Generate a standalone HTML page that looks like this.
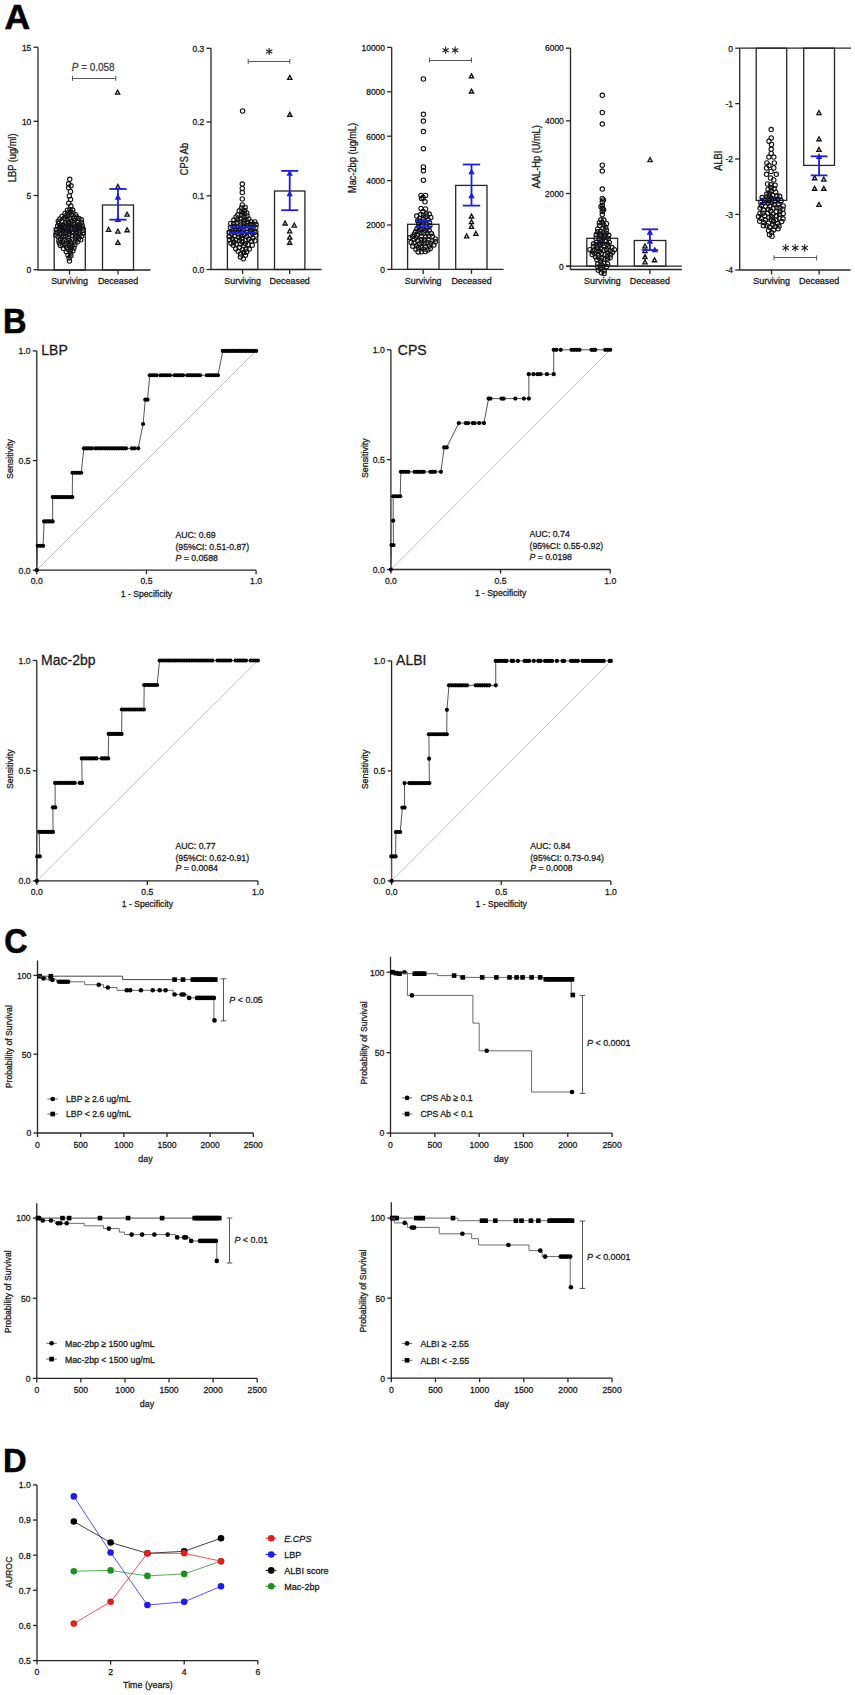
<!DOCTYPE html>
<html><head><meta charset="utf-8"><style>
html,body{margin:0;padding:0;background:#fff;}
svg{display:block;font-family:"Liberation Sans", sans-serif;}
</style></head><body>
<svg width="855" height="1695" viewBox="0 0 855 1695">
<rect width="855" height="1695" fill="#fff"/>
<text x="0" y="0" font-size="35.51" font-weight="bold" fill="#000" stroke="#000" stroke-width="0.6" transform="translate(4.62 29) scale(1 1)">A</text>
<line x1="38" y1="47.2" x2="38" y2="270.3" stroke="#262626" stroke-width="1.3" />
<line x1="33.5" y1="269.7" x2="38" y2="269.7" stroke="#262626" stroke-width="1.3" />
<text x="0" y="0" font-size="9.18" text-anchor="end" font-weight="normal" fill="#1c1c1c" transform="translate(31.3 273) scale(0.92 1)"  stroke="#1c1c1c" stroke-width="0.3">0</text>
<line x1="33.5" y1="195.5" x2="38" y2="195.5" stroke="#262626" stroke-width="1.3" />
<text x="0" y="0" font-size="9.18" text-anchor="end" font-weight="normal" fill="#1c1c1c" transform="translate(31.3 198.8) scale(0.92 1)"  stroke="#1c1c1c" stroke-width="0.3">5</text>
<line x1="33.5" y1="121.3" x2="38" y2="121.3" stroke="#262626" stroke-width="1.3" />
<text x="0" y="0" font-size="9.18" text-anchor="end" font-weight="normal" fill="#1c1c1c" transform="translate(31.3 124.6) scale(0.92 1)"  stroke="#1c1c1c" stroke-width="0.3">10</text>
<line x1="33.5" y1="47.2" x2="38" y2="47.2" stroke="#262626" stroke-width="1.3" />
<text x="0" y="0" font-size="9.18" text-anchor="end" font-weight="normal" fill="#1c1c1c" transform="translate(31.3 50.5) scale(0.92 1)"  stroke="#1c1c1c" stroke-width="0.3">15</text>
<rect x="54.2" y="228.1" width="31.1" height="41.9" fill="none" stroke="#262626" stroke-width="1.3"/>
<rect x="102.5" y="205" width="31" height="65" fill="none" stroke="#262626" stroke-width="1.3"/>
<line x1="38" y1="270" x2="150.5" y2="270" stroke="#262626" stroke-width="1.3" />
<line x1="69.5" y1="270" x2="69.5" y2="274.5" stroke="#262626" stroke-width="1.3" />
<line x1="118" y1="270" x2="118" y2="274.5" stroke="#262626" stroke-width="1.3" />
<text x="0" y="0" font-size="9.72" text-anchor="middle" font-weight="normal" fill="#1c1c1c" transform="translate(69.5 283.8) scale(0.92 1)"  stroke="#1c1c1c" stroke-width="0.3">Surviving</text>
<text x="0" y="0" font-size="9.72" text-anchor="middle" font-weight="normal" fill="#1c1c1c" transform="translate(118 283.8) scale(0.92 1)"  stroke="#1c1c1c" stroke-width="0.3">Deceased</text>
<text x="0" y="0" font-size="10.04" text-anchor="middle" font-weight="normal" fill="#1c1c1c" transform="translate(16.22 157.8) rotate(-90) scale(0.92 1)"  stroke="#1c1c1c" stroke-width="0.3">LBP (ug/ml)</text>
<line x1="72.5" y1="78.5" x2="115.8" y2="78.5" stroke="#555" stroke-width="1.1" />
<line x1="72.5" y1="75.8" x2="72.5" y2="80.8" stroke="#555" stroke-width="1.0" />
<line x1="115.8" y1="75.8" x2="115.8" y2="80.8" stroke="#555" stroke-width="1.0" />
<text x="0" y="0" font-size="10.8" text-anchor="middle" font-weight="normal" fill="#444" transform="translate(93.2 70.89) scale(0.92 1)"  stroke="#444" stroke-width="0.3"><tspan font-style="italic">P</tspan> = 0.058</text>
<line x1="69.7" y1="225.5" x2="69.7" y2="231" stroke="#1e1ee0" stroke-width="1.8" />
<line x1="60.7" y1="225.5" x2="78.7" y2="225.5" stroke="#1e1ee0" stroke-width="1.8" />
<line x1="60.7" y1="231" x2="78.7" y2="231" stroke="#1e1ee0" stroke-width="1.8" />
<circle cx="69.7" cy="179.3" r="2.2" fill="none" stroke="#111" stroke-width="1.1"/>
<circle cx="68.6" cy="183.8" r="2.2" fill="none" stroke="#111" stroke-width="1.1"/>
<circle cx="71" cy="185.8" r="2.2" fill="none" stroke="#111" stroke-width="1.1"/>
<circle cx="68.6" cy="187.8" r="2.2" fill="none" stroke="#111" stroke-width="1.1"/>
<circle cx="70.5" cy="191.5" r="2.2" fill="none" stroke="#111" stroke-width="1.1"/>
<circle cx="69.3" cy="196" r="2.2" fill="none" stroke="#111" stroke-width="1.1"/>
<circle cx="70.5" cy="199.5" r="2.2" fill="none" stroke="#111" stroke-width="1.1"/>
<circle cx="68.8" cy="203.2" r="2.2" fill="none" stroke="#111" stroke-width="1.1"/>
<circle cx="70.8" cy="206" r="2.2" fill="none" stroke="#111" stroke-width="1.1"/>
<circle cx="71.64" cy="232.43" r="2.2" fill="none" stroke="#111" stroke-width="1.1"/>
<circle cx="69.16" cy="257.91" r="2.2" fill="none" stroke="#111" stroke-width="1.1"/>
<circle cx="72.38" cy="235.42" r="2.2" fill="none" stroke="#111" stroke-width="1.1"/>
<circle cx="69.81" cy="217.97" r="2.2" fill="none" stroke="#111" stroke-width="1.1"/>
<circle cx="74.88" cy="242.01" r="2.2" fill="none" stroke="#111" stroke-width="1.1"/>
<circle cx="67.76" cy="213.08" r="2.2" fill="none" stroke="#111" stroke-width="1.1"/>
<circle cx="72.93" cy="212.9" r="2.2" fill="none" stroke="#111" stroke-width="1.1"/>
<circle cx="60.37" cy="245.45" r="2.2" fill="none" stroke="#111" stroke-width="1.1"/>
<circle cx="69.43" cy="261.04" r="2.2" fill="none" stroke="#111" stroke-width="1.1"/>
<circle cx="70.61" cy="243.31" r="2.2" fill="none" stroke="#111" stroke-width="1.1"/>
<circle cx="62.06" cy="216.5" r="2.2" fill="none" stroke="#111" stroke-width="1.1"/>
<circle cx="58.09" cy="236.53" r="2.2" fill="none" stroke="#111" stroke-width="1.1"/>
<circle cx="64.41" cy="218.27" r="2.2" fill="none" stroke="#111" stroke-width="1.1"/>
<circle cx="69.89" cy="209.62" r="2.2" fill="none" stroke="#111" stroke-width="1.1"/>
<circle cx="79.31" cy="231.79" r="2.2" fill="none" stroke="#111" stroke-width="1.1"/>
<circle cx="63.9" cy="232.7" r="2.2" fill="none" stroke="#111" stroke-width="1.1"/>
<circle cx="70.58" cy="253.37" r="2.2" fill="none" stroke="#111" stroke-width="1.1"/>
<circle cx="62.83" cy="225.02" r="2.2" fill="none" stroke="#111" stroke-width="1.1"/>
<circle cx="58.87" cy="223.61" r="2.2" fill="none" stroke="#111" stroke-width="1.1"/>
<circle cx="68.17" cy="249.38" r="2.2" fill="none" stroke="#111" stroke-width="1.1"/>
<circle cx="65" cy="213.46" r="2.2" fill="none" stroke="#111" stroke-width="1.1"/>
<circle cx="68.3" cy="238.2" r="2.2" fill="none" stroke="#111" stroke-width="1.1"/>
<circle cx="74.21" cy="218.3" r="2.2" fill="none" stroke="#111" stroke-width="1.1"/>
<circle cx="71.58" cy="215.07" r="2.2" fill="none" stroke="#111" stroke-width="1.1"/>
<circle cx="79.12" cy="224.42" r="2.2" fill="none" stroke="#111" stroke-width="1.1"/>
<circle cx="67.12" cy="219.38" r="2.2" fill="none" stroke="#111" stroke-width="1.1"/>
<circle cx="71.93" cy="221.12" r="2.2" fill="none" stroke="#111" stroke-width="1.1"/>
<circle cx="68.69" cy="228.07" r="2.2" fill="none" stroke="#111" stroke-width="1.1"/>
<circle cx="78.26" cy="239.03" r="2.2" fill="none" stroke="#111" stroke-width="1.1"/>
<circle cx="61.9" cy="221.47" r="2.2" fill="none" stroke="#111" stroke-width="1.1"/>
<circle cx="73.91" cy="247.93" r="2.2" fill="none" stroke="#111" stroke-width="1.1"/>
<circle cx="78.93" cy="218.62" r="2.2" fill="none" stroke="#111" stroke-width="1.1"/>
<circle cx="59.36" cy="230.76" r="2.2" fill="none" stroke="#111" stroke-width="1.1"/>
<circle cx="72.66" cy="210.09" r="2.2" fill="none" stroke="#111" stroke-width="1.1"/>
<circle cx="74.45" cy="220.87" r="2.2" fill="none" stroke="#111" stroke-width="1.1"/>
<circle cx="77.33" cy="221.88" r="2.2" fill="none" stroke="#111" stroke-width="1.1"/>
<circle cx="64.68" cy="240.21" r="2.2" fill="none" stroke="#111" stroke-width="1.1"/>
<circle cx="60.66" cy="238.9" r="2.2" fill="none" stroke="#111" stroke-width="1.1"/>
<circle cx="79.95" cy="227.56" r="2.2" fill="none" stroke="#111" stroke-width="1.1"/>
<circle cx="69.1" cy="245.33" r="2.2" fill="none" stroke="#111" stroke-width="1.1"/>
<circle cx="76.44" cy="234.04" r="2.2" fill="none" stroke="#111" stroke-width="1.1"/>
<circle cx="82.17" cy="225.22" r="2.2" fill="none" stroke="#111" stroke-width="1.1"/>
<circle cx="70.26" cy="212.06" r="2.2" fill="none" stroke="#111" stroke-width="1.1"/>
<circle cx="70.96" cy="247.8" r="2.2" fill="none" stroke="#111" stroke-width="1.1"/>
<circle cx="72.93" cy="250.84" r="2.2" fill="none" stroke="#111" stroke-width="1.1"/>
<circle cx="74.55" cy="227" r="2.2" fill="none" stroke="#111" stroke-width="1.1"/>
<circle cx="66.54" cy="241.75" r="2.2" fill="none" stroke="#111" stroke-width="1.1"/>
<circle cx="71.99" cy="239.46" r="2.2" fill="none" stroke="#111" stroke-width="1.1"/>
<circle cx="66.68" cy="247.32" r="2.2" fill="none" stroke="#111" stroke-width="1.1"/>
<circle cx="73.95" cy="224.26" r="2.2" fill="none" stroke="#111" stroke-width="1.1"/>
<circle cx="68" cy="255.13" r="2.2" fill="none" stroke="#111" stroke-width="1.1"/>
<circle cx="56.96" cy="232.56" r="2.2" fill="none" stroke="#111" stroke-width="1.1"/>
<circle cx="62.87" cy="244.96" r="2.2" fill="none" stroke="#111" stroke-width="1.1"/>
<circle cx="61.06" cy="233.66" r="2.2" fill="none" stroke="#111" stroke-width="1.1"/>
<circle cx="65.64" cy="222.71" r="2.2" fill="none" stroke="#111" stroke-width="1.1"/>
<circle cx="77.69" cy="229.25" r="2.2" fill="none" stroke="#111" stroke-width="1.1"/>
<circle cx="77.48" cy="241.78" r="2.2" fill="none" stroke="#111" stroke-width="1.1"/>
<circle cx="71.73" cy="228.35" r="2.2" fill="none" stroke="#111" stroke-width="1.1"/>
<circle cx="66.35" cy="251.69" r="2.2" fill="none" stroke="#111" stroke-width="1.1"/>
<circle cx="77.02" cy="226.09" r="2.2" fill="none" stroke="#111" stroke-width="1.1"/>
<circle cx="58.85" cy="240.68" r="2.2" fill="none" stroke="#111" stroke-width="1.1"/>
<circle cx="68.76" cy="222.54" r="2.2" fill="none" stroke="#111" stroke-width="1.1"/>
<circle cx="81.33" cy="219.78" r="2.2" fill="none" stroke="#111" stroke-width="1.1"/>
<circle cx="74.91" cy="229.75" r="2.2" fill="none" stroke="#111" stroke-width="1.1"/>
<circle cx="74.8" cy="244.85" r="2.2" fill="none" stroke="#111" stroke-width="1.1"/>
<circle cx="68.83" cy="225.65" r="2.2" fill="none" stroke="#111" stroke-width="1.1"/>
<circle cx="69.42" cy="240.38" r="2.2" fill="none" stroke="#111" stroke-width="1.1"/>
<circle cx="71.91" cy="245.52" r="2.2" fill="none" stroke="#111" stroke-width="1.1"/>
<circle cx="65.31" cy="243.97" r="2.2" fill="none" stroke="#111" stroke-width="1.1"/>
<circle cx="59.47" cy="228.29" r="2.2" fill="none" stroke="#111" stroke-width="1.1"/>
<circle cx="64.33" cy="227.74" r="2.2" fill="none" stroke="#111" stroke-width="1.1"/>
<circle cx="58.33" cy="221.23" r="2.2" fill="none" stroke="#111" stroke-width="1.1"/>
<circle cx="63.47" cy="248.41" r="2.2" fill="none" stroke="#111" stroke-width="1.1"/>
<circle cx="69.4" cy="231.19" r="2.2" fill="none" stroke="#111" stroke-width="1.1"/>
<circle cx="81.6" cy="236.26" r="2.2" fill="none" stroke="#111" stroke-width="1.1"/>
<circle cx="59.78" cy="219" r="2.2" fill="none" stroke="#111" stroke-width="1.1"/>
<circle cx="67.45" cy="210.13" r="2.2" fill="none" stroke="#111" stroke-width="1.1"/>
<circle cx="66.48" cy="231.09" r="2.2" fill="none" stroke="#111" stroke-width="1.1"/>
<circle cx="75.48" cy="236.29" r="2.2" fill="none" stroke="#111" stroke-width="1.1"/>
<circle cx="81.39" cy="222.83" r="2.2" fill="none" stroke="#111" stroke-width="1.1"/>
<circle cx="69.13" cy="233.93" r="2.2" fill="none" stroke="#111" stroke-width="1.1"/>
<circle cx="82.87" cy="232.93" r="2.2" fill="none" stroke="#111" stroke-width="1.1"/>
<circle cx="62.71" cy="241.86" r="2.2" fill="none" stroke="#111" stroke-width="1.1"/>
<circle cx="75.66" cy="214.7" r="2.2" fill="none" stroke="#111" stroke-width="1.1"/>
<circle cx="68.08" cy="215.72" r="2.2" fill="none" stroke="#111" stroke-width="1.1"/>
<circle cx="63.46" cy="236.07" r="2.2" fill="none" stroke="#111" stroke-width="1.1"/>
<circle cx="65.43" cy="215.95" r="2.2" fill="none" stroke="#111" stroke-width="1.1"/>
<circle cx="57.7" cy="225.82" r="2.2" fill="none" stroke="#111" stroke-width="1.1"/>
<circle cx="78.09" cy="236.47" r="2.2" fill="none" stroke="#111" stroke-width="1.1"/>
<circle cx="66.06" cy="233.75" r="2.2" fill="none" stroke="#111" stroke-width="1.1"/>
<circle cx="65.93" cy="236.44" r="2.2" fill="none" stroke="#111" stroke-width="1.1"/>
<circle cx="83.09" cy="230.38" r="2.2" fill="none" stroke="#111" stroke-width="1.1"/>
<circle cx="66.01" cy="225.12" r="2.2" fill="none" stroke="#111" stroke-width="1.1"/>
<circle cx="75.36" cy="238.95" r="2.2" fill="none" stroke="#111" stroke-width="1.1"/>
<circle cx="70.97" cy="223.61" r="2.2" fill="none" stroke="#111" stroke-width="1.1"/>
<circle cx="70.36" cy="250.78" r="2.2" fill="none" stroke="#111" stroke-width="1.1"/>
<circle cx="70.79" cy="255.81" r="2.2" fill="none" stroke="#111" stroke-width="1.1"/>
<circle cx="61.86" cy="227.81" r="2.2" fill="none" stroke="#111" stroke-width="1.1"/>
<circle cx="61.02" cy="236.27" r="2.2" fill="none" stroke="#111" stroke-width="1.1"/>
<circle cx="80.16" cy="234.27" r="2.2" fill="none" stroke="#111" stroke-width="1.1"/>
<circle cx="56.82" cy="229.65" r="2.2" fill="none" stroke="#111" stroke-width="1.1"/>
<circle cx="62.88" cy="230.25" r="2.2" fill="none" stroke="#111" stroke-width="1.1"/>
<circle cx="59.45" cy="243.12" r="2.2" fill="none" stroke="#111" stroke-width="1.1"/>
<circle cx="60.36" cy="225.7" r="2.2" fill="none" stroke="#111" stroke-width="1.1"/>
<circle cx="82.46" cy="227.94" r="2.2" fill="none" stroke="#111" stroke-width="1.1"/>
<circle cx="55.95" cy="235.12" r="2.2" fill="none" stroke="#111" stroke-width="1.1"/>
<circle cx="80.65" cy="239.77" r="2.2" fill="none" stroke="#111" stroke-width="1.1"/>
<circle cx="76.77" cy="231.57" r="2.2" fill="none" stroke="#111" stroke-width="1.1"/>
<circle cx="76.46" cy="217.1" r="2.2" fill="none" stroke="#111" stroke-width="1.1"/>
<polygon points="117.6,90.3 119.7,94.15 115.5,94.15" fill="#fff" stroke="#111" stroke-width="1.35" stroke-linejoin="miter"/>
<polygon points="117.9,184.5 120,188.35 115.8,188.35" fill="#fff" stroke="#111" stroke-width="1.35" stroke-linejoin="miter"/>
<polygon points="127.1,212.3 129.2,216.15 125,216.15" fill="#fff" stroke="#111" stroke-width="1.35" stroke-linejoin="miter"/>
<polygon points="108.6,227.5 110.7,231.35 106.5,231.35" fill="#fff" stroke="#111" stroke-width="1.35" stroke-linejoin="miter"/>
<polygon points="117.9,229.2 120,233.05 115.8,233.05" fill="#fff" stroke="#111" stroke-width="1.35" stroke-linejoin="miter"/>
<polygon points="127.1,227.9 129.2,231.75 125,231.75" fill="#fff" stroke="#111" stroke-width="1.35" stroke-linejoin="miter"/>
<polygon points="117.9,240.5 120,244.35 115.8,244.35" fill="#fff" stroke="#111" stroke-width="1.35" stroke-linejoin="miter"/>
<line x1="118" y1="189" x2="118" y2="219.7" stroke="#1e1ee0" stroke-width="1.8" />
<line x1="109.4" y1="189" x2="126.6" y2="189" stroke="#1e1ee0" stroke-width="1.8" />
<line x1="109.4" y1="219.7" x2="126.6" y2="219.7" stroke="#1e1ee0" stroke-width="1.8" />
<polygon points="117.9,195.1 120,198.95 115.8,198.95" fill="#1e1ee0" stroke="#1e1ee0" stroke-width="1.35" stroke-linejoin="miter"/>
<polygon points="117.9,217.5 120,221.35 115.8,221.35" fill="#1e1ee0" stroke="#1e1ee0" stroke-width="1.35" stroke-linejoin="miter"/>
<line x1="211" y1="48.3" x2="211" y2="269.8" stroke="#262626" stroke-width="1.3" />
<line x1="206.5" y1="269.5" x2="211" y2="269.5" stroke="#262626" stroke-width="1.3" />
<text x="0" y="0" font-size="9.18" text-anchor="end" font-weight="normal" fill="#1c1c1c" transform="translate(204.3 272.8) scale(0.92 1)"  stroke="#1c1c1c" stroke-width="0.3">0.0</text>
<line x1="206.5" y1="195.8" x2="211" y2="195.8" stroke="#262626" stroke-width="1.3" />
<text x="0" y="0" font-size="9.18" text-anchor="end" font-weight="normal" fill="#1c1c1c" transform="translate(204.3 199.1) scale(0.92 1)"  stroke="#1c1c1c" stroke-width="0.3">0.1</text>
<line x1="206.5" y1="122" x2="211" y2="122" stroke="#262626" stroke-width="1.3" />
<text x="0" y="0" font-size="9.18" text-anchor="end" font-weight="normal" fill="#1c1c1c" transform="translate(204.3 125.3) scale(0.92 1)"  stroke="#1c1c1c" stroke-width="0.3">0.2</text>
<line x1="206.5" y1="48.3" x2="211" y2="48.3" stroke="#262626" stroke-width="1.3" />
<text x="0" y="0" font-size="9.18" text-anchor="end" font-weight="normal" fill="#1c1c1c" transform="translate(204.3 51.6) scale(0.92 1)"  stroke="#1c1c1c" stroke-width="0.3">0.3</text>
<rect x="227.4" y="230.8" width="30.4" height="38.7" fill="none" stroke="#262626" stroke-width="1.3"/>
<rect x="274.5" y="191" width="30.4" height="78.5" fill="none" stroke="#262626" stroke-width="1.3"/>
<line x1="211" y1="269.5" x2="321.6" y2="269.5" stroke="#262626" stroke-width="1.3" />
<line x1="242.6" y1="269.5" x2="242.6" y2="274" stroke="#262626" stroke-width="1.3" />
<line x1="289.7" y1="269.5" x2="289.7" y2="274" stroke="#262626" stroke-width="1.3" />
<text x="0" y="0" font-size="9.72" text-anchor="middle" font-weight="normal" fill="#1c1c1c" transform="translate(242.6 283.8) scale(0.92 1)"  stroke="#1c1c1c" stroke-width="0.3">Surviving</text>
<text x="0" y="0" font-size="9.72" text-anchor="middle" font-weight="normal" fill="#1c1c1c" transform="translate(289.7 283.8) scale(0.92 1)"  stroke="#1c1c1c" stroke-width="0.3">Deceased</text>
<text x="0" y="0" font-size="10.04" text-anchor="middle" font-weight="normal" fill="#1c1c1c" transform="translate(187.62 159) rotate(-90) scale(0.92 1)"  stroke="#1c1c1c" stroke-width="0.3">CPS Ab</text>
<line x1="248.2" y1="61.5" x2="289.8" y2="61.5" stroke="#555" stroke-width="1.1" />
<line x1="248.2" y1="58.9" x2="248.2" y2="63.9" stroke="#555" stroke-width="1.0" />
<line x1="289.8" y1="58.9" x2="289.8" y2="63.9" stroke="#555" stroke-width="1.0" />
<line x1="269.2" y1="47.9" x2="269.2" y2="55.1" stroke="#222" stroke-width="1.15" />
<line x1="266.08" y1="49.7" x2="272.32" y2="53.3" stroke="#222" stroke-width="1.15" />
<line x1="272.32" y1="49.7" x2="266.08" y2="53.3" stroke="#222" stroke-width="1.15" />
<circle cx="242.6" cy="111" r="2.2" fill="#fff" stroke="#111" stroke-width="1.1"/>
<circle cx="242.3" cy="184.1" r="2.2" fill="none" stroke="#111" stroke-width="1.1"/>
<circle cx="242.3" cy="188.5" r="2.2" fill="none" stroke="#111" stroke-width="1.1"/>
<circle cx="242.3" cy="192.5" r="2.2" fill="none" stroke="#111" stroke-width="1.1"/>
<circle cx="242.3" cy="199" r="2.2" fill="none" stroke="#111" stroke-width="1.1"/>
<circle cx="242.3" cy="205" r="2.2" fill="none" stroke="#111" stroke-width="1.1"/>
<circle cx="246.93" cy="232.18" r="2.2" fill="none" stroke="#111" stroke-width="1.1"/>
<circle cx="233.85" cy="242.15" r="2.2" fill="none" stroke="#111" stroke-width="1.1"/>
<circle cx="241.65" cy="208.06" r="2.2" fill="none" stroke="#111" stroke-width="1.1"/>
<circle cx="250.95" cy="221.75" r="2.2" fill="none" stroke="#111" stroke-width="1.1"/>
<circle cx="245.31" cy="243.41" r="2.2" fill="none" stroke="#111" stroke-width="1.1"/>
<circle cx="246.7" cy="236.53" r="2.2" fill="none" stroke="#111" stroke-width="1.1"/>
<circle cx="241.6" cy="215.06" r="2.2" fill="none" stroke="#111" stroke-width="1.1"/>
<circle cx="247.08" cy="215.94" r="2.2" fill="none" stroke="#111" stroke-width="1.1"/>
<circle cx="244.7" cy="210.56" r="2.2" fill="none" stroke="#111" stroke-width="1.1"/>
<circle cx="240.59" cy="225.02" r="2.2" fill="none" stroke="#111" stroke-width="1.1"/>
<circle cx="238.2" cy="251.3" r="2.2" fill="none" stroke="#111" stroke-width="1.1"/>
<circle cx="231.45" cy="233.96" r="2.2" fill="none" stroke="#111" stroke-width="1.1"/>
<circle cx="243.38" cy="258.83" r="2.2" fill="none" stroke="#111" stroke-width="1.1"/>
<circle cx="240.74" cy="228.33" r="2.2" fill="none" stroke="#111" stroke-width="1.1"/>
<circle cx="241.53" cy="238.49" r="2.2" fill="none" stroke="#111" stroke-width="1.1"/>
<circle cx="230.43" cy="227.5" r="2.2" fill="none" stroke="#111" stroke-width="1.1"/>
<circle cx="252.19" cy="245.27" r="2.2" fill="none" stroke="#111" stroke-width="1.1"/>
<circle cx="243.33" cy="226.39" r="2.2" fill="none" stroke="#111" stroke-width="1.1"/>
<circle cx="242.61" cy="249.63" r="2.2" fill="none" stroke="#111" stroke-width="1.1"/>
<circle cx="243.33" cy="229.87" r="2.2" fill="none" stroke="#111" stroke-width="1.1"/>
<circle cx="241.11" cy="219.05" r="2.2" fill="none" stroke="#111" stroke-width="1.1"/>
<circle cx="250.21" cy="227.69" r="2.2" fill="none" stroke="#111" stroke-width="1.1"/>
<circle cx="246.72" cy="225.4" r="2.2" fill="none" stroke="#111" stroke-width="1.1"/>
<circle cx="255.08" cy="232.27" r="2.2" fill="none" stroke="#111" stroke-width="1.1"/>
<circle cx="234.76" cy="226.44" r="2.2" fill="none" stroke="#111" stroke-width="1.1"/>
<circle cx="239.4" cy="247.57" r="2.2" fill="none" stroke="#111" stroke-width="1.1"/>
<circle cx="233.9" cy="220.06" r="2.2" fill="none" stroke="#111" stroke-width="1.1"/>
<circle cx="240.55" cy="254" r="2.2" fill="none" stroke="#111" stroke-width="1.1"/>
<circle cx="254.88" cy="221.97" r="2.2" fill="none" stroke="#111" stroke-width="1.1"/>
<circle cx="236.36" cy="244.14" r="2.2" fill="none" stroke="#111" stroke-width="1.1"/>
<circle cx="236.84" cy="222.32" r="2.2" fill="none" stroke="#111" stroke-width="1.1"/>
<circle cx="235.91" cy="229.36" r="2.2" fill="none" stroke="#111" stroke-width="1.1"/>
<circle cx="245.4" cy="255.34" r="2.2" fill="none" stroke="#111" stroke-width="1.1"/>
<circle cx="252.87" cy="238.1" r="2.2" fill="none" stroke="#111" stroke-width="1.1"/>
<circle cx="243.7" cy="245.76" r="2.2" fill="none" stroke="#111" stroke-width="1.1"/>
<circle cx="250.33" cy="235.32" r="2.2" fill="none" stroke="#111" stroke-width="1.1"/>
<circle cx="240.4" cy="243.93" r="2.2" fill="none" stroke="#111" stroke-width="1.1"/>
<circle cx="237.88" cy="214.87" r="2.2" fill="none" stroke="#111" stroke-width="1.1"/>
<circle cx="248.75" cy="218.96" r="2.2" fill="none" stroke="#111" stroke-width="1.1"/>
<circle cx="246.58" cy="251.95" r="2.2" fill="none" stroke="#111" stroke-width="1.1"/>
<circle cx="238.82" cy="233.49" r="2.2" fill="none" stroke="#111" stroke-width="1.1"/>
<circle cx="233.61" cy="223.47" r="2.2" fill="none" stroke="#111" stroke-width="1.1"/>
<circle cx="252.91" cy="227.73" r="2.2" fill="none" stroke="#111" stroke-width="1.1"/>
<circle cx="235.8" cy="239.63" r="2.2" fill="none" stroke="#111" stroke-width="1.1"/>
<circle cx="241.06" cy="235.38" r="2.2" fill="none" stroke="#111" stroke-width="1.1"/>
<circle cx="239.26" cy="240.47" r="2.2" fill="none" stroke="#111" stroke-width="1.1"/>
<circle cx="248.8" cy="239.1" r="2.2" fill="none" stroke="#111" stroke-width="1.1"/>
<circle cx="239.27" cy="210.74" r="2.2" fill="none" stroke="#111" stroke-width="1.1"/>
<circle cx="244.02" cy="213.39" r="2.2" fill="none" stroke="#111" stroke-width="1.1"/>
<circle cx="240.37" cy="256.88" r="2.2" fill="none" stroke="#111" stroke-width="1.1"/>
<circle cx="234.74" cy="232.22" r="2.2" fill="none" stroke="#111" stroke-width="1.1"/>
<circle cx="238.99" cy="237.51" r="2.2" fill="none" stroke="#111" stroke-width="1.1"/>
<circle cx="237.3" cy="219.63" r="2.2" fill="none" stroke="#111" stroke-width="1.1"/>
<circle cx="245.77" cy="240.68" r="2.2" fill="none" stroke="#111" stroke-width="1.1"/>
<circle cx="248.09" cy="244.69" r="2.2" fill="none" stroke="#111" stroke-width="1.1"/>
<circle cx="230.68" cy="223.44" r="2.2" fill="none" stroke="#111" stroke-width="1.1"/>
<circle cx="243.54" cy="221.06" r="2.2" fill="none" stroke="#111" stroke-width="1.1"/>
<circle cx="244.2" cy="234.64" r="2.2" fill="none" stroke="#111" stroke-width="1.1"/>
<circle cx="245.95" cy="249.08" r="2.2" fill="none" stroke="#111" stroke-width="1.1"/>
<circle cx="232.42" cy="238.85" r="2.2" fill="none" stroke="#111" stroke-width="1.1"/>
<circle cx="255.77" cy="235.05" r="2.2" fill="none" stroke="#111" stroke-width="1.1"/>
<circle cx="242.11" cy="241.83" r="2.2" fill="none" stroke="#111" stroke-width="1.1"/>
<circle cx="243.83" cy="216.64" r="2.2" fill="none" stroke="#111" stroke-width="1.1"/>
<circle cx="256.05" cy="224.56" r="2.2" fill="none" stroke="#111" stroke-width="1.1"/>
<circle cx="229.25" cy="232.3" r="2.2" fill="none" stroke="#111" stroke-width="1.1"/>
<circle cx="233.24" cy="245.34" r="2.2" fill="none" stroke="#111" stroke-width="1.1"/>
<circle cx="243.67" cy="252.56" r="2.2" fill="none" stroke="#111" stroke-width="1.1"/>
<circle cx="229.65" cy="239.86" r="2.2" fill="none" stroke="#111" stroke-width="1.1"/>
<circle cx="250.8" cy="230.74" r="2.2" fill="none" stroke="#111" stroke-width="1.1"/>
<circle cx="249.25" cy="249.12" r="2.2" fill="none" stroke="#111" stroke-width="1.1"/>
<circle cx="255.78" cy="227.41" r="2.2" fill="none" stroke="#111" stroke-width="1.1"/>
<circle cx="229.19" cy="236.61" r="2.2" fill="none" stroke="#111" stroke-width="1.1"/>
<circle cx="250.29" cy="224.53" r="2.2" fill="none" stroke="#111" stroke-width="1.1"/>
<circle cx="247.51" cy="222.69" r="2.2" fill="none" stroke="#111" stroke-width="1.1"/>
<circle cx="235.79" cy="248.78" r="2.2" fill="none" stroke="#111" stroke-width="1.1"/>
<circle cx="252.44" cy="233.32" r="2.2" fill="none" stroke="#111" stroke-width="1.1"/>
<circle cx="244.48" cy="223.83" r="2.2" fill="none" stroke="#111" stroke-width="1.1"/>
<circle cx="237.67" cy="226.96" r="2.2" fill="none" stroke="#111" stroke-width="1.1"/>
<circle cx="240.47" cy="221.98" r="2.2" fill="none" stroke="#111" stroke-width="1.1"/>
<circle cx="238.53" cy="230.17" r="2.2" fill="none" stroke="#111" stroke-width="1.1"/>
<circle cx="234.34" cy="236.37" r="2.2" fill="none" stroke="#111" stroke-width="1.1"/>
<circle cx="254.97" cy="240.74" r="2.2" fill="none" stroke="#111" stroke-width="1.1"/>
<circle cx="245.85" cy="219.46" r="2.2" fill="none" stroke="#111" stroke-width="1.1"/>
<circle cx="251.53" cy="241.1" r="2.2" fill="none" stroke="#111" stroke-width="1.1"/>
<circle cx="246.75" cy="213.02" r="2.2" fill="none" stroke="#111" stroke-width="1.1"/>
<circle cx="247.1" cy="228.32" r="2.2" fill="none" stroke="#111" stroke-width="1.1"/>
<circle cx="232.1" cy="230.94" r="2.2" fill="none" stroke="#111" stroke-width="1.1"/>
<circle cx="245.12" cy="207.61" r="2.2" fill="none" stroke="#111" stroke-width="1.1"/>
<circle cx="241.98" cy="232.47" r="2.2" fill="none" stroke="#111" stroke-width="1.1"/>
<circle cx="236.17" cy="216.97" r="2.2" fill="none" stroke="#111" stroke-width="1.1"/>
<circle cx="241.94" cy="211.25" r="2.2" fill="none" stroke="#111" stroke-width="1.1"/>
<circle cx="231.03" cy="243.18" r="2.2" fill="none" stroke="#111" stroke-width="1.1"/>
<circle cx="252.99" cy="224.03" r="2.2" fill="none" stroke="#111" stroke-width="1.1"/>
<line x1="242.6" y1="227.2" x2="242.6" y2="232.8" stroke="#1e1ee0" stroke-width="2.1" />
<line x1="229.6" y1="227.2" x2="255.6" y2="227.2" stroke="#1e1ee0" stroke-width="2.1" />
<line x1="229.6" y1="232.8" x2="255.6" y2="232.8" stroke="#1e1ee0" stroke-width="2.1" />
<polygon points="289.8,75.5 291.9,79.35 287.7,79.35" fill="#fff" stroke="#111" stroke-width="1.35" stroke-linejoin="miter"/>
<polygon points="289.8,112.4 291.9,116.25 287.7,116.25" fill="#fff" stroke="#111" stroke-width="1.35" stroke-linejoin="miter"/>
<polygon points="285.1,221.1 287.2,224.95 283,224.95" fill="#fff" stroke="#111" stroke-width="1.35" stroke-linejoin="miter"/>
<polygon points="294.3,223.2 296.4,227.05 292.2,227.05" fill="#fff" stroke="#111" stroke-width="1.35" stroke-linejoin="miter"/>
<polygon points="289.7,229 291.8,232.85 287.6,232.85" fill="#fff" stroke="#111" stroke-width="1.35" stroke-linejoin="miter"/>
<polygon points="289.7,235.1 291.8,238.95 287.6,238.95" fill="#fff" stroke="#111" stroke-width="1.35" stroke-linejoin="miter"/>
<polygon points="289.7,240.4 291.8,244.25 287.6,244.25" fill="#fff" stroke="#111" stroke-width="1.35" stroke-linejoin="miter"/>
<line x1="289.7" y1="170.9" x2="289.7" y2="210.2" stroke="#1e1ee0" stroke-width="1.8" />
<line x1="281.2" y1="170.9" x2="298.2" y2="170.9" stroke="#1e1ee0" stroke-width="1.8" />
<line x1="281.2" y1="210.2" x2="298.2" y2="210.2" stroke="#1e1ee0" stroke-width="1.8" />
<polygon points="289.7,171.3 291.8,175.15 287.6,175.15" fill="#1e1ee0" stroke="#1e1ee0" stroke-width="1.35" stroke-linejoin="miter"/>
<polygon points="289.7,191.8 291.8,195.65 287.6,195.65" fill="#1e1ee0" stroke="#1e1ee0" stroke-width="1.35" stroke-linejoin="miter"/>
<line x1="391.7" y1="47.4" x2="391.7" y2="269.7" stroke="#262626" stroke-width="1.3" />
<line x1="387.2" y1="269.4" x2="391.7" y2="269.4" stroke="#262626" stroke-width="1.3" />
<text x="0" y="0" font-size="9.18" text-anchor="end" font-weight="normal" fill="#1c1c1c" transform="translate(385 272.7) scale(0.92 1)"  stroke="#1c1c1c" stroke-width="0.3">0</text>
<line x1="387.2" y1="225" x2="391.7" y2="225" stroke="#262626" stroke-width="1.3" />
<text x="0" y="0" font-size="9.18" text-anchor="end" font-weight="normal" fill="#1c1c1c" transform="translate(385 228.3) scale(0.92 1)"  stroke="#1c1c1c" stroke-width="0.3">2000</text>
<line x1="387.2" y1="180.6" x2="391.7" y2="180.6" stroke="#262626" stroke-width="1.3" />
<text x="0" y="0" font-size="9.18" text-anchor="end" font-weight="normal" fill="#1c1c1c" transform="translate(385 183.9) scale(0.92 1)"  stroke="#1c1c1c" stroke-width="0.3">4000</text>
<line x1="387.2" y1="136.2" x2="391.7" y2="136.2" stroke="#262626" stroke-width="1.3" />
<text x="0" y="0" font-size="9.18" text-anchor="end" font-weight="normal" fill="#1c1c1c" transform="translate(385 139.5) scale(0.92 1)"  stroke="#1c1c1c" stroke-width="0.3">6000</text>
<line x1="387.2" y1="91.8" x2="391.7" y2="91.8" stroke="#262626" stroke-width="1.3" />
<text x="0" y="0" font-size="9.18" text-anchor="end" font-weight="normal" fill="#1c1c1c" transform="translate(385 95.1) scale(0.92 1)"  stroke="#1c1c1c" stroke-width="0.3">8000</text>
<line x1="387.2" y1="47.4" x2="391.7" y2="47.4" stroke="#262626" stroke-width="1.3" />
<text x="0" y="0" font-size="9.18" text-anchor="end" font-weight="normal" fill="#1c1c1c" transform="translate(385 50.7) scale(0.92 1)"  stroke="#1c1c1c" stroke-width="0.3">10000</text>
<rect x="407.6" y="224.3" width="31.4" height="45.1" fill="none" stroke="#262626" stroke-width="1.3"/>
<rect x="455.7" y="185.4" width="31.3" height="84" fill="none" stroke="#262626" stroke-width="1.3"/>
<line x1="391.7" y1="269.4" x2="503.5" y2="269.4" stroke="#262626" stroke-width="1.3" />
<line x1="423.2" y1="269.4" x2="423.2" y2="273.9" stroke="#262626" stroke-width="1.3" />
<line x1="471.5" y1="269.4" x2="471.5" y2="273.9" stroke="#262626" stroke-width="1.3" />
<text x="0" y="0" font-size="9.72" text-anchor="middle" font-weight="normal" fill="#1c1c1c" transform="translate(423.2 283.8) scale(0.92 1)"  stroke="#1c1c1c" stroke-width="0.3">Surviving</text>
<text x="0" y="0" font-size="9.72" text-anchor="middle" font-weight="normal" fill="#1c1c1c" transform="translate(471.5 283.8) scale(0.92 1)"  stroke="#1c1c1c" stroke-width="0.3">Deceased</text>
<text x="0" y="0" font-size="10.04" text-anchor="middle" font-weight="normal" fill="#1c1c1c" transform="translate(356.32 157.9) rotate(-90) scale(0.92 1)"  stroke="#1c1c1c" stroke-width="0.3">Mac-2bp (ug/mL)</text>
<line x1="429.5" y1="60.5" x2="471.5" y2="60.5" stroke="#555" stroke-width="1.1" />
<line x1="429.5" y1="57.5" x2="429.5" y2="62.5" stroke="#555" stroke-width="1.0" />
<line x1="471.5" y1="57.5" x2="471.5" y2="62.5" stroke="#555" stroke-width="1.0" />
<line x1="445.65" y1="46.6" x2="445.65" y2="53.8" stroke="#222" stroke-width="1.15" />
<line x1="442.53" y1="48.4" x2="448.77" y2="52" stroke="#222" stroke-width="1.15" />
<line x1="448.77" y1="48.4" x2="442.53" y2="52" stroke="#222" stroke-width="1.15" />
<line x1="455.15" y1="46.6" x2="455.15" y2="53.8" stroke="#222" stroke-width="1.15" />
<line x1="452.03" y1="48.4" x2="458.27" y2="52" stroke="#222" stroke-width="1.15" />
<line x1="458.27" y1="48.4" x2="452.03" y2="52" stroke="#222" stroke-width="1.15" />
<circle cx="423.4" cy="79" r="2.2" fill="none" stroke="#111" stroke-width="1.1"/>
<circle cx="423.4" cy="114.3" r="2.2" fill="none" stroke="#111" stroke-width="1.1"/>
<circle cx="423.4" cy="121.1" r="2.2" fill="none" stroke="#111" stroke-width="1.1"/>
<circle cx="423.4" cy="131.6" r="2.2" fill="none" stroke="#111" stroke-width="1.1"/>
<circle cx="423.4" cy="148.7" r="2.2" fill="none" stroke="#111" stroke-width="1.1"/>
<circle cx="423.4" cy="166.9" r="2.2" fill="none" stroke="#111" stroke-width="1.1"/>
<circle cx="423.4" cy="170.7" r="2.2" fill="none" stroke="#111" stroke-width="1.1"/>
<circle cx="423.4" cy="180.2" r="2.2" fill="none" stroke="#111" stroke-width="1.1"/>
<circle cx="421" cy="195.5" r="2.2" fill="none" stroke="#111" stroke-width="1.1"/>
<circle cx="425.5" cy="195.5" r="2.2" fill="none" stroke="#111" stroke-width="1.1"/>
<circle cx="423" cy="197.5" r="2.2" fill="none" stroke="#111" stroke-width="1.1"/>
<circle cx="421.5" cy="198.5" r="2.2" fill="none" stroke="#111" stroke-width="1.1"/>
<circle cx="425" cy="201.8" r="2.2" fill="none" stroke="#111" stroke-width="1.1"/>
<circle cx="421" cy="208.5" r="2.2" fill="none" stroke="#111" stroke-width="1.1"/>
<circle cx="425.5" cy="209" r="2.2" fill="none" stroke="#111" stroke-width="1.1"/>
<circle cx="423" cy="211.5" r="2.2" fill="none" stroke="#111" stroke-width="1.1"/>
<circle cx="426.01" cy="224.23" r="2.2" fill="none" stroke="#111" stroke-width="1.1"/>
<circle cx="432.06" cy="241.02" r="2.2" fill="none" stroke="#111" stroke-width="1.1"/>
<circle cx="420.45" cy="221.34" r="2.2" fill="none" stroke="#111" stroke-width="1.1"/>
<circle cx="414.03" cy="242.99" r="2.2" fill="none" stroke="#111" stroke-width="1.1"/>
<circle cx="417.14" cy="234.99" r="2.2" fill="none" stroke="#111" stroke-width="1.1"/>
<circle cx="422.9" cy="225.64" r="2.2" fill="none" stroke="#111" stroke-width="1.1"/>
<circle cx="425.15" cy="247.09" r="2.2" fill="none" stroke="#111" stroke-width="1.1"/>
<circle cx="420.78" cy="214.57" r="2.2" fill="none" stroke="#111" stroke-width="1.1"/>
<circle cx="428.22" cy="219.8" r="2.2" fill="none" stroke="#111" stroke-width="1.1"/>
<circle cx="429.51" cy="245.98" r="2.2" fill="none" stroke="#111" stroke-width="1.1"/>
<circle cx="425.3" cy="251.5" r="2.2" fill="none" stroke="#111" stroke-width="1.1"/>
<circle cx="427.29" cy="233.23" r="2.2" fill="none" stroke="#111" stroke-width="1.1"/>
<circle cx="421.49" cy="236.28" r="2.2" fill="none" stroke="#111" stroke-width="1.1"/>
<circle cx="422.98" cy="228.39" r="2.2" fill="none" stroke="#111" stroke-width="1.1"/>
<circle cx="418.75" cy="226.39" r="2.2" fill="none" stroke="#111" stroke-width="1.1"/>
<circle cx="428.84" cy="235.89" r="2.2" fill="none" stroke="#111" stroke-width="1.1"/>
<circle cx="418.35" cy="231.51" r="2.2" fill="none" stroke="#111" stroke-width="1.1"/>
<circle cx="423.83" cy="222" r="2.2" fill="none" stroke="#111" stroke-width="1.1"/>
<circle cx="423.35" cy="219.17" r="2.2" fill="none" stroke="#111" stroke-width="1.1"/>
<circle cx="425.8" cy="216.89" r="2.2" fill="none" stroke="#111" stroke-width="1.1"/>
<circle cx="421.47" cy="251.67" r="2.2" fill="none" stroke="#111" stroke-width="1.1"/>
<circle cx="414.04" cy="239.24" r="2.2" fill="none" stroke="#111" stroke-width="1.1"/>
<circle cx="429.16" cy="230.33" r="2.2" fill="none" stroke="#111" stroke-width="1.1"/>
<circle cx="425.51" cy="236.94" r="2.2" fill="none" stroke="#111" stroke-width="1.1"/>
<circle cx="427.13" cy="228.19" r="2.2" fill="none" stroke="#111" stroke-width="1.1"/>
<circle cx="419.51" cy="218.43" r="2.2" fill="none" stroke="#111" stroke-width="1.1"/>
<circle cx="429.19" cy="214.12" r="2.2" fill="none" stroke="#111" stroke-width="1.1"/>
<circle cx="431.33" cy="233.61" r="2.2" fill="none" stroke="#111" stroke-width="1.1"/>
<circle cx="417.83" cy="240.45" r="2.2" fill="none" stroke="#111" stroke-width="1.1"/>
<circle cx="423.5" cy="215.25" r="2.2" fill="none" stroke="#111" stroke-width="1.1"/>
<circle cx="418.41" cy="247.54" r="2.2" fill="none" stroke="#111" stroke-width="1.1"/>
<circle cx="409.82" cy="237.69" r="2.2" fill="none" stroke="#111" stroke-width="1.1"/>
<circle cx="423.89" cy="232.99" r="2.2" fill="none" stroke="#111" stroke-width="1.1"/>
<circle cx="430.27" cy="248.62" r="2.2" fill="none" stroke="#111" stroke-width="1.1"/>
<circle cx="420.94" cy="232.92" r="2.2" fill="none" stroke="#111" stroke-width="1.1"/>
<circle cx="429.84" cy="225.83" r="2.2" fill="none" stroke="#111" stroke-width="1.1"/>
<circle cx="416.76" cy="216.06" r="2.2" fill="none" stroke="#111" stroke-width="1.1"/>
<circle cx="415.54" cy="231.78" r="2.2" fill="none" stroke="#111" stroke-width="1.1"/>
<circle cx="421.36" cy="247.71" r="2.2" fill="none" stroke="#111" stroke-width="1.1"/>
<circle cx="421.26" cy="239.64" r="2.2" fill="none" stroke="#111" stroke-width="1.1"/>
<circle cx="418.15" cy="251.89" r="2.2" fill="none" stroke="#111" stroke-width="1.1"/>
<circle cx="419.28" cy="244.01" r="2.2" fill="none" stroke="#111" stroke-width="1.1"/>
<circle cx="427.14" cy="242.47" r="2.2" fill="none" stroke="#111" stroke-width="1.1"/>
<circle cx="433.83" cy="244.98" r="2.2" fill="none" stroke="#111" stroke-width="1.1"/>
<circle cx="432.34" cy="236.34" r="2.2" fill="none" stroke="#111" stroke-width="1.1"/>
<circle cx="428.64" cy="240.05" r="2.2" fill="none" stroke="#111" stroke-width="1.1"/>
<circle cx="424.52" cy="243.31" r="2.2" fill="none" stroke="#111" stroke-width="1.1"/>
<circle cx="435.24" cy="238.88" r="2.2" fill="none" stroke="#111" stroke-width="1.1"/>
<circle cx="412.48" cy="236.42" r="2.2" fill="none" stroke="#111" stroke-width="1.1"/>
<circle cx="430.82" cy="217.4" r="2.2" fill="none" stroke="#111" stroke-width="1.1"/>
<circle cx="411.13" cy="242.45" r="2.2" fill="none" stroke="#111" stroke-width="1.1"/>
<circle cx="416.35" cy="237.85" r="2.2" fill="none" stroke="#111" stroke-width="1.1"/>
<circle cx="418.83" cy="223.55" r="2.2" fill="none" stroke="#111" stroke-width="1.1"/>
<circle cx="412.82" cy="246.22" r="2.2" fill="none" stroke="#111" stroke-width="1.1"/>
<circle cx="423.53" cy="249.37" r="2.2" fill="none" stroke="#111" stroke-width="1.1"/>
<circle cx="427.81" cy="249.92" r="2.2" fill="none" stroke="#111" stroke-width="1.1"/>
<circle cx="420.29" cy="229.43" r="2.2" fill="none" stroke="#111" stroke-width="1.1"/>
<circle cx="415.91" cy="249.15" r="2.2" fill="none" stroke="#111" stroke-width="1.1"/>
<circle cx="435.26" cy="241.74" r="2.2" fill="none" stroke="#111" stroke-width="1.1"/>
<circle cx="429.5" cy="222.7" r="2.2" fill="none" stroke="#111" stroke-width="1.1"/>
<circle cx="416.46" cy="245.65" r="2.2" fill="none" stroke="#111" stroke-width="1.1"/>
<circle cx="424.46" cy="239.84" r="2.2" fill="none" stroke="#111" stroke-width="1.1"/>
<circle cx="426.27" cy="214.07" r="2.2" fill="none" stroke="#111" stroke-width="1.1"/>
<circle cx="416.96" cy="228.86" r="2.2" fill="none" stroke="#111" stroke-width="1.1"/>
<circle cx="421.7" cy="242.4" r="2.2" fill="none" stroke="#111" stroke-width="1.1"/>
<circle cx="417.73" cy="220.68" r="2.2" fill="none" stroke="#111" stroke-width="1.1"/>
<circle cx="425.42" cy="230.59" r="2.2" fill="none" stroke="#111" stroke-width="1.1"/>
<circle cx="430.63" cy="243.41" r="2.2" fill="none" stroke="#111" stroke-width="1.1"/>
<circle cx="414.23" cy="234.22" r="2.2" fill="none" stroke="#111" stroke-width="1.1"/>
<line x1="423.4" y1="220.9" x2="423.4" y2="226.7" stroke="#1e1ee0" stroke-width="1.8" />
<line x1="415.4" y1="220.9" x2="431.4" y2="220.9" stroke="#1e1ee0" stroke-width="1.8" />
<line x1="415.4" y1="226.7" x2="431.4" y2="226.7" stroke="#1e1ee0" stroke-width="1.8" />
<polygon points="471.5,73.9 473.6,77.75 469.4,77.75" fill="#fff" stroke="#111" stroke-width="1.35" stroke-linejoin="miter"/>
<polygon points="471.5,89.1 473.6,92.95 469.4,92.95" fill="#fff" stroke="#111" stroke-width="1.35" stroke-linejoin="miter"/>
<polygon points="471.5,214.1 473.6,217.95 469.4,217.95" fill="#fff" stroke="#111" stroke-width="1.35" stroke-linejoin="miter"/>
<polygon points="471.5,219.8 473.6,223.65 469.4,223.65" fill="#fff" stroke="#111" stroke-width="1.35" stroke-linejoin="miter"/>
<polygon points="471.5,224.5 473.6,228.35 469.4,228.35" fill="#fff" stroke="#111" stroke-width="1.35" stroke-linejoin="miter"/>
<polygon points="466.7,234 468.8,237.85 464.6,237.85" fill="#fff" stroke="#111" stroke-width="1.35" stroke-linejoin="miter"/>
<polygon points="475.9,231.5 478,235.35 473.8,235.35" fill="#fff" stroke="#111" stroke-width="1.35" stroke-linejoin="miter"/>
<line x1="471.5" y1="164.5" x2="471.5" y2="205.6" stroke="#1e1ee0" stroke-width="1.8" />
<line x1="462.8" y1="164.5" x2="480.2" y2="164.5" stroke="#1e1ee0" stroke-width="1.8" />
<line x1="462.8" y1="205.6" x2="480.2" y2="205.6" stroke="#1e1ee0" stroke-width="1.8" />
<polygon points="471.5,169.8 473.6,173.65 469.4,173.65" fill="#1e1ee0" stroke="#1e1ee0" stroke-width="1.35" stroke-linejoin="miter"/>
<polygon points="471.5,193.6 473.6,197.45 469.4,197.45" fill="#1e1ee0" stroke="#1e1ee0" stroke-width="1.35" stroke-linejoin="miter"/>
<line x1="570.5" y1="48.2" x2="570.5" y2="269.8" stroke="#262626" stroke-width="1.3" />
<line x1="566" y1="266.2" x2="570.5" y2="266.2" stroke="#262626" stroke-width="1.3" />
<text x="0" y="0" font-size="9.18" text-anchor="end" font-weight="normal" fill="#1c1c1c" transform="translate(563.8 269.5) scale(0.92 1)"  stroke="#1c1c1c" stroke-width="0.3">0</text>
<line x1="566" y1="193.53" x2="570.5" y2="193.53" stroke="#262626" stroke-width="1.3" />
<text x="0" y="0" font-size="9.18" text-anchor="end" font-weight="normal" fill="#1c1c1c" transform="translate(563.8 196.83) scale(0.92 1)"  stroke="#1c1c1c" stroke-width="0.3">2000</text>
<line x1="566" y1="120.86" x2="570.5" y2="120.86" stroke="#262626" stroke-width="1.3" />
<text x="0" y="0" font-size="9.18" text-anchor="end" font-weight="normal" fill="#1c1c1c" transform="translate(563.8 124.16) scale(0.92 1)"  stroke="#1c1c1c" stroke-width="0.3">4000</text>
<line x1="566" y1="48.19" x2="570.5" y2="48.19" stroke="#262626" stroke-width="1.3" />
<text x="0" y="0" font-size="9.18" text-anchor="end" font-weight="normal" fill="#1c1c1c" transform="translate(563.8 51.49) scale(0.92 1)"  stroke="#1c1c1c" stroke-width="0.3">6000</text>
<line x1="566" y1="266.2" x2="681.8" y2="266.2" stroke="#262626" stroke-width="1.3" />
<rect x="586.8" y="238.3" width="30.8" height="27.9" fill="none" stroke="#262626" stroke-width="1.3"/>
<rect x="634.3" y="240.5" width="31.5" height="25.7" fill="none" stroke="#262626" stroke-width="1.3"/>
<line x1="570.5" y1="269.5" x2="681.8" y2="269.5" stroke="#262626" stroke-width="1.3" />
<line x1="602.4" y1="269.5" x2="602.4" y2="274" stroke="#262626" stroke-width="1.3" />
<line x1="649.9" y1="269.5" x2="649.9" y2="274" stroke="#262626" stroke-width="1.3" />
<text x="0" y="0" font-size="9.72" text-anchor="middle" font-weight="normal" fill="#1c1c1c" transform="translate(602.4 283.8) scale(0.92 1)"  stroke="#1c1c1c" stroke-width="0.3">Surviving</text>
<text x="0" y="0" font-size="9.72" text-anchor="middle" font-weight="normal" fill="#1c1c1c" transform="translate(649.9 283.8) scale(0.92 1)"  stroke="#1c1c1c" stroke-width="0.3">Deceased</text>
<text x="0" y="0" font-size="10.04" text-anchor="middle" font-weight="normal" fill="#1c1c1c" transform="translate(540.12 156.7) rotate(-90) scale(0.92 1)"  stroke="#1c1c1c" stroke-width="0.3">AAL-Hp (U/mL)</text>
<line x1="602.3" y1="233.5" x2="602.3" y2="243" stroke="#1e1ee0" stroke-width="1.4" />
<line x1="594.3" y1="233.5" x2="610.3" y2="233.5" stroke="#1e1ee0" stroke-width="1.4" />
<line x1="594.3" y1="243" x2="610.3" y2="243" stroke="#1e1ee0" stroke-width="1.4" />
<circle cx="602.3" cy="95.3" r="2.2" fill="none" stroke="#111" stroke-width="1.1"/>
<circle cx="602.3" cy="112.5" r="2.2" fill="none" stroke="#111" stroke-width="1.1"/>
<circle cx="602.3" cy="124.1" r="2.2" fill="none" stroke="#111" stroke-width="1.1"/>
<circle cx="602.3" cy="165.2" r="2.2" fill="none" stroke="#111" stroke-width="1.1"/>
<circle cx="602.3" cy="171.1" r="2.2" fill="none" stroke="#111" stroke-width="1.1"/>
<circle cx="602.3" cy="189.1" r="2.2" fill="none" stroke="#111" stroke-width="1.1"/>
<circle cx="602.3" cy="198.5" r="2.2" fill="none" stroke="#111" stroke-width="1.1"/>
<circle cx="602.3" cy="202" r="2.2" fill="none" stroke="#111" stroke-width="1.1"/>
<circle cx="602.3" cy="205.5" r="2.2" fill="none" stroke="#111" stroke-width="1.1"/>
<circle cx="602.3" cy="208.5" r="2.2" fill="none" stroke="#111" stroke-width="1.1"/>
<circle cx="602.3" cy="211.5" r="2.2" fill="none" stroke="#111" stroke-width="1.1"/>
<circle cx="602.3" cy="214.6" r="2.2" fill="none" stroke="#111" stroke-width="1.1"/>
<circle cx="603.5" cy="200" r="2.2" fill="none" stroke="#111" stroke-width="1.1"/>
<circle cx="601" cy="206.8" r="2.2" fill="none" stroke="#111" stroke-width="1.1"/>
<circle cx="603.6" cy="209.8" r="2.2" fill="none" stroke="#111" stroke-width="1.1"/>
<circle cx="603.81" cy="224.88" r="2.2" fill="none" stroke="#111" stroke-width="1.1"/>
<circle cx="610.63" cy="254.86" r="2.2" fill="none" stroke="#111" stroke-width="1.1"/>
<circle cx="599.26" cy="233.91" r="2.2" fill="none" stroke="#111" stroke-width="1.1"/>
<circle cx="604.86" cy="259.37" r="2.2" fill="none" stroke="#111" stroke-width="1.1"/>
<circle cx="604.94" cy="235.66" r="2.2" fill="none" stroke="#111" stroke-width="1.1"/>
<circle cx="606.16" cy="240.82" r="2.2" fill="none" stroke="#111" stroke-width="1.1"/>
<circle cx="599.55" cy="225.51" r="2.2" fill="none" stroke="#111" stroke-width="1.1"/>
<circle cx="600.66" cy="268.58" r="2.2" fill="none" stroke="#111" stroke-width="1.1"/>
<circle cx="606.23" cy="233.32" r="2.2" fill="none" stroke="#111" stroke-width="1.1"/>
<circle cx="594.78" cy="253.74" r="2.2" fill="none" stroke="#111" stroke-width="1.1"/>
<circle cx="606.47" cy="249.32" r="2.2" fill="none" stroke="#111" stroke-width="1.1"/>
<circle cx="603.01" cy="228.07" r="2.2" fill="none" stroke="#111" stroke-width="1.1"/>
<circle cx="601.43" cy="272.79" r="2.2" fill="none" stroke="#111" stroke-width="1.1"/>
<circle cx="595.49" cy="256.78" r="2.2" fill="none" stroke="#111" stroke-width="1.1"/>
<circle cx="597.75" cy="228.97" r="2.2" fill="none" stroke="#111" stroke-width="1.1"/>
<circle cx="593.47" cy="246.53" r="2.2" fill="none" stroke="#111" stroke-width="1.1"/>
<circle cx="597.86" cy="264" r="2.2" fill="none" stroke="#111" stroke-width="1.1"/>
<circle cx="596.24" cy="234.44" r="2.2" fill="none" stroke="#111" stroke-width="1.1"/>
<circle cx="596.89" cy="259.72" r="2.2" fill="none" stroke="#111" stroke-width="1.1"/>
<circle cx="604.44" cy="245.42" r="2.2" fill="none" stroke="#111" stroke-width="1.1"/>
<circle cx="600.84" cy="248.42" r="2.2" fill="none" stroke="#111" stroke-width="1.1"/>
<circle cx="599.95" cy="245.67" r="2.2" fill="none" stroke="#111" stroke-width="1.1"/>
<circle cx="592.48" cy="251.75" r="2.2" fill="none" stroke="#111" stroke-width="1.1"/>
<circle cx="596.61" cy="245.1" r="2.2" fill="none" stroke="#111" stroke-width="1.1"/>
<circle cx="606.6" cy="266.6" r="2.2" fill="none" stroke="#111" stroke-width="1.1"/>
<circle cx="599.37" cy="222.65" r="2.2" fill="none" stroke="#111" stroke-width="1.1"/>
<circle cx="603.76" cy="220.05" r="2.2" fill="none" stroke="#111" stroke-width="1.1"/>
<circle cx="603.42" cy="238.11" r="2.2" fill="none" stroke="#111" stroke-width="1.1"/>
<circle cx="601.41" cy="253.56" r="2.2" fill="none" stroke="#111" stroke-width="1.1"/>
<circle cx="599.21" cy="238.71" r="2.2" fill="none" stroke="#111" stroke-width="1.1"/>
<circle cx="603.5" cy="232.67" r="2.2" fill="none" stroke="#111" stroke-width="1.1"/>
<circle cx="600.74" cy="260.89" r="2.2" fill="none" stroke="#111" stroke-width="1.1"/>
<circle cx="604.15" cy="270.83" r="2.2" fill="none" stroke="#111" stroke-width="1.1"/>
<circle cx="608.32" cy="246.95" r="2.2" fill="none" stroke="#111" stroke-width="1.1"/>
<circle cx="602.33" cy="243.61" r="2.2" fill="none" stroke="#111" stroke-width="1.1"/>
<circle cx="596.25" cy="242.38" r="2.2" fill="none" stroke="#111" stroke-width="1.1"/>
<circle cx="605.14" cy="254.58" r="2.2" fill="none" stroke="#111" stroke-width="1.1"/>
<circle cx="608.24" cy="238.44" r="2.2" fill="none" stroke="#111" stroke-width="1.1"/>
<circle cx="609.24" cy="242.45" r="2.2" fill="none" stroke="#111" stroke-width="1.1"/>
<circle cx="598.26" cy="270.22" r="2.2" fill="none" stroke="#111" stroke-width="1.1"/>
<circle cx="608.75" cy="235.3" r="2.2" fill="none" stroke="#111" stroke-width="1.1"/>
<circle cx="592.19" cy="254.52" r="2.2" fill="none" stroke="#111" stroke-width="1.1"/>
<circle cx="601.52" cy="240.88" r="2.2" fill="none" stroke="#111" stroke-width="1.1"/>
<circle cx="610.07" cy="257.83" r="2.2" fill="none" stroke="#111" stroke-width="1.1"/>
<circle cx="610.05" cy="250.74" r="2.2" fill="none" stroke="#111" stroke-width="1.1"/>
<circle cx="589.84" cy="249.7" r="2.2" fill="none" stroke="#111" stroke-width="1.1"/>
<circle cx="601.21" cy="236.01" r="2.2" fill="none" stroke="#111" stroke-width="1.1"/>
<circle cx="602.72" cy="265.94" r="2.2" fill="none" stroke="#111" stroke-width="1.1"/>
<circle cx="600.89" cy="219.84" r="2.2" fill="none" stroke="#111" stroke-width="1.1"/>
<circle cx="600.73" cy="231.44" r="2.2" fill="none" stroke="#111" stroke-width="1.1"/>
<circle cx="593.56" cy="243.82" r="2.2" fill="none" stroke="#111" stroke-width="1.1"/>
<circle cx="614.41" cy="249.69" r="2.2" fill="none" stroke="#111" stroke-width="1.1"/>
<circle cx="605.72" cy="227.42" r="2.2" fill="none" stroke="#111" stroke-width="1.1"/>
<circle cx="598.52" cy="255.26" r="2.2" fill="none" stroke="#111" stroke-width="1.1"/>
<circle cx="601.7" cy="258.28" r="2.2" fill="none" stroke="#111" stroke-width="1.1"/>
<circle cx="607.58" cy="258.92" r="2.2" fill="none" stroke="#111" stroke-width="1.1"/>
<circle cx="597.97" cy="266.92" r="2.2" fill="none" stroke="#111" stroke-width="1.1"/>
<circle cx="606.45" cy="223.7" r="2.2" fill="none" stroke="#111" stroke-width="1.1"/>
<circle cx="603.79" cy="263.25" r="2.2" fill="none" stroke="#111" stroke-width="1.1"/>
<circle cx="607.55" cy="263.92" r="2.2" fill="none" stroke="#111" stroke-width="1.1"/>
<circle cx="607.37" cy="256.26" r="2.2" fill="none" stroke="#111" stroke-width="1.1"/>
<circle cx="597.57" cy="247.92" r="2.2" fill="none" stroke="#111" stroke-width="1.1"/>
<circle cx="599.02" cy="258" r="2.2" fill="none" stroke="#111" stroke-width="1.1"/>
<circle cx="597.8" cy="231.7" r="2.2" fill="none" stroke="#111" stroke-width="1.1"/>
<circle cx="607.05" cy="244.37" r="2.2" fill="none" stroke="#111" stroke-width="1.1"/>
<circle cx="594.25" cy="249.64" r="2.2" fill="none" stroke="#111" stroke-width="1.1"/>
<circle cx="596" cy="238.35" r="2.2" fill="none" stroke="#111" stroke-width="1.1"/>
<circle cx="603.93" cy="250.17" r="2.2" fill="none" stroke="#111" stroke-width="1.1"/>
<circle cx="599.43" cy="251.45" r="2.2" fill="none" stroke="#111" stroke-width="1.1"/>
<circle cx="607.98" cy="252.78" r="2.2" fill="none" stroke="#111" stroke-width="1.1"/>
<circle cx="606.32" cy="230.09" r="2.2" fill="none" stroke="#111" stroke-width="1.1"/>
<circle cx="601.01" cy="263.89" r="2.2" fill="none" stroke="#111" stroke-width="1.1"/>
<circle cx="599.72" cy="242.97" r="2.2" fill="none" stroke="#111" stroke-width="1.1"/>
<circle cx="611.99" cy="247.54" r="2.2" fill="none" stroke="#111" stroke-width="1.1"/>
<circle cx="604.09" cy="273.58" r="2.2" fill="none" stroke="#111" stroke-width="1.1"/>
<circle cx="602.13" cy="222.3" r="2.2" fill="none" stroke="#111" stroke-width="1.1"/>
<circle cx="612.59" cy="252.19" r="2.2" fill="none" stroke="#111" stroke-width="1.1"/>
<circle cx="596.72" cy="250.93" r="2.2" fill="none" stroke="#111" stroke-width="1.1"/>
<polygon points="650.1,157.7 652.2,161.55 648,161.55" fill="#fff" stroke="#111" stroke-width="1.35" stroke-linejoin="miter"/>
<polygon points="645,244 647.1,247.85 642.9,247.85" fill="#fff" stroke="#111" stroke-width="1.35" stroke-linejoin="miter"/>
<polygon points="645,248.8 647.1,252.65 642.9,252.65" fill="#fff" stroke="#111" stroke-width="1.35" stroke-linejoin="miter"/>
<polygon points="645,254.6 647.1,258.45 642.9,258.45" fill="#fff" stroke="#111" stroke-width="1.35" stroke-linejoin="miter"/>
<polygon points="654.5,257.9 656.6,261.75 652.4,261.75" fill="#fff" stroke="#111" stroke-width="1.35" stroke-linejoin="miter"/>
<polygon points="645,260 647.1,263.85 642.9,263.85" fill="#fff" stroke="#111" stroke-width="1.35" stroke-linejoin="miter"/>
<line x1="649.9" y1="229.3" x2="649.9" y2="250" stroke="#1e1ee0" stroke-width="1.8" />
<line x1="641.7" y1="229.3" x2="658.1" y2="229.3" stroke="#1e1ee0" stroke-width="1.8" />
<line x1="641.7" y1="250" x2="658.1" y2="250" stroke="#1e1ee0" stroke-width="1.8" />
<polygon points="649.9,230.1 652,233.95 647.8,233.95" fill="#1e1ee0" stroke="#1e1ee0" stroke-width="1.35" stroke-linejoin="miter"/>
<polygon points="649.9,239.1 652,242.95 647.8,242.95" fill="#1e1ee0" stroke="#1e1ee0" stroke-width="1.35" stroke-linejoin="miter"/>
<polygon points="654.8,247.8 656.9,251.65 652.7,251.65" fill="#1e1ee0" stroke="#1e1ee0" stroke-width="1.35" stroke-linejoin="miter"/>
<line x1="739.7" y1="48.2" x2="739.7" y2="270.3" stroke="#262626" stroke-width="1.3" />
<line x1="735.2" y1="48.2" x2="739.7" y2="48.2" stroke="#262626" stroke-width="1.3" />
<text x="0" y="0" font-size="9.18" text-anchor="end" font-weight="normal" fill="#1c1c1c" transform="translate(733 51.5) scale(0.92 1)"  stroke="#1c1c1c" stroke-width="0.3">0</text>
<line x1="735.2" y1="103.6" x2="739.7" y2="103.6" stroke="#262626" stroke-width="1.3" />
<text x="0" y="0" font-size="9.18" text-anchor="end" font-weight="normal" fill="#1c1c1c" transform="translate(733 106.9) scale(0.92 1)"  stroke="#1c1c1c" stroke-width="0.3">-1</text>
<line x1="735.2" y1="159" x2="739.7" y2="159" stroke="#262626" stroke-width="1.3" />
<text x="0" y="0" font-size="9.18" text-anchor="end" font-weight="normal" fill="#1c1c1c" transform="translate(733 162.3) scale(0.92 1)"  stroke="#1c1c1c" stroke-width="0.3">-2</text>
<line x1="735.2" y1="214.4" x2="739.7" y2="214.4" stroke="#262626" stroke-width="1.3" />
<text x="0" y="0" font-size="9.18" text-anchor="end" font-weight="normal" fill="#1c1c1c" transform="translate(733 217.7) scale(0.92 1)"  stroke="#1c1c1c" stroke-width="0.3">-3</text>
<line x1="735.2" y1="270" x2="739.7" y2="270" stroke="#262626" stroke-width="1.3" />
<text x="0" y="0" font-size="9.18" text-anchor="end" font-weight="normal" fill="#1c1c1c" transform="translate(733 273.3) scale(0.92 1)"  stroke="#1c1c1c" stroke-width="0.3">-4</text>
<line x1="739.7" y1="48.2" x2="851" y2="48.2" stroke="#262626" stroke-width="1.3" />
<rect x="756.2" y="48.2" width="30.5" height="152.2" fill="none" stroke="#262626" stroke-width="1.3"/>
<rect x="803.7" y="48.2" width="30.8" height="117.2" fill="none" stroke="#262626" stroke-width="1.3"/>
<line x1="739.7" y1="270" x2="850.5" y2="270" stroke="#262626" stroke-width="1.3" />
<line x1="771.6" y1="270" x2="771.6" y2="274.5" stroke="#262626" stroke-width="1.3" />
<line x1="819.1" y1="270" x2="819.1" y2="274.5" stroke="#262626" stroke-width="1.3" />
<text x="0" y="0" font-size="9.72" text-anchor="middle" font-weight="normal" fill="#1c1c1c" transform="translate(771.6 283.8) scale(0.92 1)"  stroke="#1c1c1c" stroke-width="0.3">Surviving</text>
<text x="0" y="0" font-size="9.72" text-anchor="middle" font-weight="normal" fill="#1c1c1c" transform="translate(819.1 283.8) scale(0.92 1)"  stroke="#1c1c1c" stroke-width="0.3">Deceased</text>
<text x="0" y="0" font-size="10.04" text-anchor="middle" font-weight="normal" fill="#1c1c1c" transform="translate(721.52 160.7) rotate(-90) scale(0.92 1)"  stroke="#1c1c1c" stroke-width="0.3">ALBI</text>
<line x1="774" y1="257.5" x2="816.6" y2="257.5" stroke="#555" stroke-width="1.1" />
<line x1="774" y1="255.4" x2="774" y2="260.4" stroke="#555" stroke-width="1.0" />
<line x1="816.6" y1="255.4" x2="816.6" y2="260.4" stroke="#555" stroke-width="1.0" />
<line x1="785.7" y1="244.3" x2="785.7" y2="251.5" stroke="#222" stroke-width="1.15" />
<line x1="782.58" y1="246.1" x2="788.82" y2="249.7" stroke="#222" stroke-width="1.15" />
<line x1="788.82" y1="246.1" x2="782.58" y2="249.7" stroke="#222" stroke-width="1.15" />
<line x1="795.2" y1="244.3" x2="795.2" y2="251.5" stroke="#222" stroke-width="1.15" />
<line x1="792.08" y1="246.1" x2="798.32" y2="249.7" stroke="#222" stroke-width="1.15" />
<line x1="798.32" y1="246.1" x2="792.08" y2="249.7" stroke="#222" stroke-width="1.15" />
<line x1="804.7" y1="244.3" x2="804.7" y2="251.5" stroke="#222" stroke-width="1.15" />
<line x1="801.58" y1="246.1" x2="807.82" y2="249.7" stroke="#222" stroke-width="1.15" />
<line x1="807.82" y1="246.1" x2="801.58" y2="249.7" stroke="#222" stroke-width="1.15" />
<line x1="771.2" y1="198.5" x2="771.2" y2="202.8" stroke="#1e1ee0" stroke-width="1.6" />
<line x1="759.9" y1="198.5" x2="782.5" y2="198.5" stroke="#1e1ee0" stroke-width="1.6" />
<line x1="759.9" y1="202.8" x2="782.5" y2="202.8" stroke="#1e1ee0" stroke-width="1.6" />
<circle cx="771.2" cy="129.6" r="2.2" fill="none" stroke="#111" stroke-width="1.1"/>
<circle cx="771.2" cy="138" r="2.2" fill="none" stroke="#111" stroke-width="1.1"/>
<circle cx="769" cy="141.2" r="2.2" fill="none" stroke="#111" stroke-width="1.1"/>
<circle cx="771.5" cy="144.5" r="2.2" fill="none" stroke="#111" stroke-width="1.1"/>
<circle cx="771.2" cy="149.3" r="2.2" fill="none" stroke="#111" stroke-width="1.1"/>
<circle cx="771.2" cy="153.5" r="2.2" fill="none" stroke="#111" stroke-width="1.1"/>
<circle cx="768.9" cy="157.1" r="2.2" fill="none" stroke="#111" stroke-width="1.1"/>
<circle cx="773.8" cy="157.1" r="2.2" fill="none" stroke="#111" stroke-width="1.1"/>
<circle cx="766.9" cy="163" r="2.2" fill="none" stroke="#111" stroke-width="1.1"/>
<circle cx="774.3" cy="163" r="2.2" fill="none" stroke="#111" stroke-width="1.1"/>
<circle cx="766.5" cy="168" r="2.2" fill="none" stroke="#111" stroke-width="1.1"/>
<circle cx="773.8" cy="168" r="2.2" fill="none" stroke="#111" stroke-width="1.1"/>
<circle cx="769" cy="165.5" r="2.2" fill="none" stroke="#111" stroke-width="1.1"/>
<circle cx="766.5" cy="174.3" r="2.2" fill="none" stroke="#111" stroke-width="1.1"/>
<circle cx="776.3" cy="174.3" r="2.2" fill="none" stroke="#111" stroke-width="1.1"/>
<circle cx="771" cy="171.5" r="2.2" fill="none" stroke="#111" stroke-width="1.1"/>
<circle cx="773.8" cy="180" r="2.2" fill="none" stroke="#111" stroke-width="1.1"/>
<circle cx="770.5" cy="178" r="2.2" fill="none" stroke="#111" stroke-width="1.1"/>
<circle cx="769.5" cy="234.64" r="2.2" fill="none" stroke="#111" stroke-width="1.1"/>
<circle cx="763.63" cy="222.38" r="2.2" fill="none" stroke="#111" stroke-width="1.1"/>
<circle cx="773.65" cy="230.05" r="2.2" fill="none" stroke="#111" stroke-width="1.1"/>
<circle cx="778.04" cy="228.87" r="2.2" fill="none" stroke="#111" stroke-width="1.1"/>
<circle cx="769.39" cy="195.82" r="2.2" fill="none" stroke="#111" stroke-width="1.1"/>
<circle cx="766.73" cy="197.09" r="2.2" fill="none" stroke="#111" stroke-width="1.1"/>
<circle cx="766.83" cy="225.67" r="2.2" fill="none" stroke="#111" stroke-width="1.1"/>
<circle cx="771.56" cy="232.48" r="2.2" fill="none" stroke="#111" stroke-width="1.1"/>
<circle cx="761.46" cy="205.46" r="2.2" fill="none" stroke="#111" stroke-width="1.1"/>
<circle cx="767.73" cy="213.21" r="2.2" fill="none" stroke="#111" stroke-width="1.1"/>
<circle cx="783.14" cy="213.47" r="2.2" fill="none" stroke="#111" stroke-width="1.1"/>
<circle cx="768.76" cy="217.54" r="2.2" fill="none" stroke="#111" stroke-width="1.1"/>
<circle cx="782.78" cy="209.23" r="2.2" fill="none" stroke="#111" stroke-width="1.1"/>
<circle cx="767.6" cy="184" r="2.2" fill="none" stroke="#111" stroke-width="1.1"/>
<circle cx="775.68" cy="192.21" r="2.2" fill="none" stroke="#111" stroke-width="1.1"/>
<circle cx="776.15" cy="219.94" r="2.2" fill="none" stroke="#111" stroke-width="1.1"/>
<circle cx="771.46" cy="198.33" r="2.2" fill="none" stroke="#111" stroke-width="1.1"/>
<circle cx="768.55" cy="230.46" r="2.2" fill="none" stroke="#111" stroke-width="1.1"/>
<circle cx="768.01" cy="189.22" r="2.2" fill="none" stroke="#111" stroke-width="1.1"/>
<circle cx="779.97" cy="208.07" r="2.2" fill="none" stroke="#111" stroke-width="1.1"/>
<circle cx="763.29" cy="209.86" r="2.2" fill="none" stroke="#111" stroke-width="1.1"/>
<circle cx="769.49" cy="227.13" r="2.2" fill="none" stroke="#111" stroke-width="1.1"/>
<circle cx="768.35" cy="209.35" r="2.2" fill="none" stroke="#111" stroke-width="1.1"/>
<circle cx="775.13" cy="185.21" r="2.2" fill="none" stroke="#111" stroke-width="1.1"/>
<circle cx="773.02" cy="224.61" r="2.2" fill="none" stroke="#111" stroke-width="1.1"/>
<circle cx="765.28" cy="220.04" r="2.2" fill="none" stroke="#111" stroke-width="1.1"/>
<circle cx="774.95" cy="200.82" r="2.2" fill="none" stroke="#111" stroke-width="1.1"/>
<circle cx="767.95" cy="203.32" r="2.2" fill="none" stroke="#111" stroke-width="1.1"/>
<circle cx="776.63" cy="216.09" r="2.2" fill="none" stroke="#111" stroke-width="1.1"/>
<circle cx="779.72" cy="196.34" r="2.2" fill="none" stroke="#111" stroke-width="1.1"/>
<circle cx="781.11" cy="200.71" r="2.2" fill="none" stroke="#111" stroke-width="1.1"/>
<circle cx="774.09" cy="188.79" r="2.2" fill="none" stroke="#111" stroke-width="1.1"/>
<circle cx="778.21" cy="204.08" r="2.2" fill="none" stroke="#111" stroke-width="1.1"/>
<circle cx="772.86" cy="213.97" r="2.2" fill="none" stroke="#111" stroke-width="1.1"/>
<circle cx="768.26" cy="223.2" r="2.2" fill="none" stroke="#111" stroke-width="1.1"/>
<circle cx="772.66" cy="195.49" r="2.2" fill="none" stroke="#111" stroke-width="1.1"/>
<circle cx="770.63" cy="211.36" r="2.2" fill="none" stroke="#111" stroke-width="1.1"/>
<circle cx="773.9" cy="208.05" r="2.2" fill="none" stroke="#111" stroke-width="1.1"/>
<circle cx="769.64" cy="206.14" r="2.2" fill="none" stroke="#111" stroke-width="1.1"/>
<circle cx="783.07" cy="218.79" r="2.2" fill="none" stroke="#111" stroke-width="1.1"/>
<circle cx="770.82" cy="184.63" r="2.2" fill="none" stroke="#111" stroke-width="1.1"/>
<circle cx="774.68" cy="204.68" r="2.2" fill="none" stroke="#111" stroke-width="1.1"/>
<circle cx="772.02" cy="236.24" r="2.2" fill="none" stroke="#111" stroke-width="1.1"/>
<circle cx="775.13" cy="226.54" r="2.2" fill="none" stroke="#111" stroke-width="1.1"/>
<circle cx="768.73" cy="200.2" r="2.2" fill="none" stroke="#111" stroke-width="1.1"/>
<circle cx="761.15" cy="218.56" r="2.2" fill="none" stroke="#111" stroke-width="1.1"/>
<circle cx="769.36" cy="192.9" r="2.2" fill="none" stroke="#111" stroke-width="1.1"/>
<circle cx="779.05" cy="226.03" r="2.2" fill="none" stroke="#111" stroke-width="1.1"/>
<circle cx="779.4" cy="214.32" r="2.2" fill="none" stroke="#111" stroke-width="1.1"/>
<circle cx="771.16" cy="219.44" r="2.2" fill="none" stroke="#111" stroke-width="1.1"/>
<circle cx="781.7" cy="221.54" r="2.2" fill="none" stroke="#111" stroke-width="1.1"/>
<circle cx="777.45" cy="223.45" r="2.2" fill="none" stroke="#111" stroke-width="1.1"/>
<circle cx="764.22" cy="202.68" r="2.2" fill="none" stroke="#111" stroke-width="1.1"/>
<circle cx="779.28" cy="218.26" r="2.2" fill="none" stroke="#111" stroke-width="1.1"/>
<circle cx="760.88" cy="202.18" r="2.2" fill="none" stroke="#111" stroke-width="1.1"/>
<circle cx="764.67" cy="215.64" r="2.2" fill="none" stroke="#111" stroke-width="1.1"/>
<circle cx="765.51" cy="206.51" r="2.2" fill="none" stroke="#111" stroke-width="1.1"/>
<circle cx="759.97" cy="213.4" r="2.2" fill="none" stroke="#111" stroke-width="1.1"/>
<circle cx="776.83" cy="195.84" r="2.2" fill="none" stroke="#111" stroke-width="1.1"/>
<circle cx="762.15" cy="197.6" r="2.2" fill="none" stroke="#111" stroke-width="1.1"/>
<circle cx="771.32" cy="190.68" r="2.2" fill="none" stroke="#111" stroke-width="1.1"/>
<circle cx="776.41" cy="211.48" r="2.2" fill="none" stroke="#111" stroke-width="1.1"/>
<circle cx="771.89" cy="202.47" r="2.2" fill="none" stroke="#111" stroke-width="1.1"/>
<circle cx="765.81" cy="199.85" r="2.2" fill="none" stroke="#111" stroke-width="1.1"/>
<circle cx="783.16" cy="205.95" r="2.2" fill="none" stroke="#111" stroke-width="1.1"/>
<circle cx="759.73" cy="221.13" r="2.2" fill="none" stroke="#111" stroke-width="1.1"/>
<circle cx="776.92" cy="207.87" r="2.2" fill="none" stroke="#111" stroke-width="1.1"/>
<circle cx="777.59" cy="199.21" r="2.2" fill="none" stroke="#111" stroke-width="1.1"/>
<circle cx="763.34" cy="225.65" r="2.2" fill="none" stroke="#111" stroke-width="1.1"/>
<circle cx="770.98" cy="187.48" r="2.2" fill="none" stroke="#111" stroke-width="1.1"/>
<circle cx="758.47" cy="216.45" r="2.2" fill="none" stroke="#111" stroke-width="1.1"/>
<circle cx="760.18" cy="208.05" r="2.2" fill="none" stroke="#111" stroke-width="1.1"/>
<circle cx="771.46" cy="216.59" r="2.2" fill="none" stroke="#111" stroke-width="1.1"/>
<circle cx="780.01" cy="211.43" r="2.2" fill="none" stroke="#111" stroke-width="1.1"/>
<circle cx="773.5" cy="221.29" r="2.2" fill="none" stroke="#111" stroke-width="1.1"/>
<circle cx="762.87" cy="213.27" r="2.2" fill="none" stroke="#111" stroke-width="1.1"/>
<circle cx="766.77" cy="194.12" r="2.2" fill="none" stroke="#111" stroke-width="1.1"/>
<polygon points="819,110.7 821.1,114.55 816.9,114.55" fill="#fff" stroke="#111" stroke-width="1.35" stroke-linejoin="miter"/>
<polygon points="819,136.9 821.1,140.75 816.9,140.75" fill="#fff" stroke="#111" stroke-width="1.35" stroke-linejoin="miter"/>
<polygon points="819,147.5 821.1,151.35 816.9,151.35" fill="#fff" stroke="#111" stroke-width="1.35" stroke-linejoin="miter"/>
<polygon points="814.6,175.9 816.7,179.75 812.5,179.75" fill="#fff" stroke="#111" stroke-width="1.35" stroke-linejoin="miter"/>
<polygon points="823.8,177.2 825.9,181.05 821.7,181.05" fill="#fff" stroke="#111" stroke-width="1.35" stroke-linejoin="miter"/>
<polygon points="814.6,186.4 816.7,190.25 812.5,190.25" fill="#fff" stroke="#111" stroke-width="1.35" stroke-linejoin="miter"/>
<polygon points="823.8,186.4 825.9,190.25 821.7,190.25" fill="#fff" stroke="#111" stroke-width="1.35" stroke-linejoin="miter"/>
<polygon points="819,202.5 821.1,206.35 816.9,206.35" fill="#fff" stroke="#111" stroke-width="1.35" stroke-linejoin="miter"/>
<line x1="819.1" y1="156.3" x2="819.1" y2="175.4" stroke="#1e1ee0" stroke-width="1.8" />
<line x1="810.7" y1="156.3" x2="827.5" y2="156.3" stroke="#1e1ee0" stroke-width="1.8" />
<line x1="810.7" y1="175.4" x2="827.5" y2="175.4" stroke="#1e1ee0" stroke-width="1.8" />
<polygon points="819.1,154.5 821.2,158.35 817,158.35" fill="#1e1ee0" stroke="#1e1ee0" stroke-width="1.35" stroke-linejoin="miter"/>
<text x="0" y="0" font-size="34.64" font-weight="bold" fill="#000" stroke="#000" stroke-width="0.6" transform="translate(3.09 333) scale(0.94 1)">B</text>
<line x1="36.8" y1="570.2" x2="256.1" y2="350.9" stroke="#b0b0b0" stroke-width="0.8" />
<line x1="36.8" y1="350.9" x2="36.8" y2="570.8" stroke="#262626" stroke-width="1.3" />
<line x1="32.8" y1="570.2" x2="36.8" y2="570.2" stroke="#262626" stroke-width="1.3" />
<text x="0" y="0" font-size="9.4" text-anchor="end" font-weight="normal" fill="#1c1c1c" transform="translate(30.6 573.58) scale(0.92 1)"  stroke="#1c1c1c" stroke-width="0.3">0.0</text>
<line x1="32.8" y1="460.55" x2="36.8" y2="460.55" stroke="#262626" stroke-width="1.3" />
<text x="0" y="0" font-size="9.4" text-anchor="end" font-weight="normal" fill="#1c1c1c" transform="translate(30.6 463.93) scale(0.92 1)"  stroke="#1c1c1c" stroke-width="0.3">0.5</text>
<line x1="32.8" y1="350.9" x2="36.8" y2="350.9" stroke="#262626" stroke-width="1.3" />
<text x="0" y="0" font-size="9.4" text-anchor="end" font-weight="normal" fill="#1c1c1c" transform="translate(30.6 354.28) scale(0.92 1)"  stroke="#1c1c1c" stroke-width="0.3">1.0</text>
<line x1="36.2" y1="570.2" x2="256.1" y2="570.2" stroke="#262626" stroke-width="1.3" />
<line x1="36.8" y1="570.2" x2="36.8" y2="574.2" stroke="#262626" stroke-width="1.3" />
<line x1="146.45" y1="570.2" x2="146.45" y2="574.2" stroke="#262626" stroke-width="1.3" />
<line x1="256.1" y1="570.2" x2="256.1" y2="574.2" stroke="#262626" stroke-width="1.3" />
<text x="0" y="0" font-size="9.4" text-anchor="middle" font-weight="normal" fill="#1c1c1c" transform="translate(36.8 584.38) scale(0.92 1)"  stroke="#1c1c1c" stroke-width="0.3">0.0</text>
<text x="0" y="0" font-size="9.4" text-anchor="middle" font-weight="normal" fill="#1c1c1c" transform="translate(146.45 584.38) scale(0.92 1)"  stroke="#1c1c1c" stroke-width="0.3">0.5</text>
<text x="0" y="0" font-size="9.4" text-anchor="middle" font-weight="normal" fill="#1c1c1c" transform="translate(256.1 584.38) scale(0.92 1)"  stroke="#1c1c1c" stroke-width="0.3">1.0</text>
<text x="0" y="0" font-size="9.4" text-anchor="middle" font-weight="normal" fill="#1c1c1c" transform="translate(146.45 596.78) scale(0.92 1)"  stroke="#1c1c1c" stroke-width="0.3">1 - Specificity</text>
<text x="0" y="0" font-size="9.61" text-anchor="middle" font-weight="normal" fill="#1c1c1c" transform="translate(13.46 459.05) rotate(-90) scale(0.92 1)"  stroke="#1c1c1c" stroke-width="0.3">Sensitivity</text>
<text x="0" y="0" font-size="14" text-anchor="start" font-weight="normal" fill="#1c1c1c" transform="translate(41.3 355.2) scale(1.0 1)"  stroke="#1c1c1c" stroke-width="0.3">LBP</text>
<text x="0" y="0" font-size="9.5" text-anchor="start" font-weight="normal" fill="#1c1c1c" transform="translate(175.4 537.82) scale(0.92 1)"  stroke="#1c1c1c" stroke-width="0.3">AUC: 0.69</text>
<text x="0" y="0" font-size="9.5" text-anchor="start" font-weight="normal" fill="#1c1c1c" transform="translate(175.4 550.12) scale(0.92 1)"  stroke="#1c1c1c" stroke-width="0.3">(95%CI: 0.51-0.87)</text>
<text x="0" y="0" font-size="9.5" text-anchor="start" font-weight="normal" fill="#1c1c1c" transform="translate(175.4 560.62) scale(0.92 1)"  stroke="#1c1c1c" stroke-width="0.3"><tspan font-style="italic">P</tspan> = 0.0588</text>
<polyline points="36.8,570.2 37.7,545.83 43.1,545.83 44.1,521.47 52.6,521.47 52.7,497.1 72.3,497.1 72.5,472.73 81.2,472.73 83.9,448.37 92,448.37 95.5,448.37 126,448.37 131.9,448.37 134.5,448.37 138.2,448.37 143.1,424 145.3,399.63 147.5,399.63 149.8,375.27 156.5,375.27 160.5,375.27 170,375.27 174.5,375.27 183,375.27 187.3,375.27 200,375.27 206.9,375.27 217.9,375.27 222.8,350.9 256.1,350.9" fill="none" stroke="#555" stroke-width="1.0" />
<circle cx="36.8" cy="570.2" r="2.1" fill="#000"/>
<circle cx="37.7" cy="545.83" r="2.1" fill="#000"/>
<circle cx="40.4" cy="545.83" r="2.1" fill="#000"/>
<circle cx="43.1" cy="545.83" r="2.1" fill="#000"/>
<circle cx="44.1" cy="521.47" r="2.1" fill="#000"/>
<circle cx="46.23" cy="521.47" r="2.1" fill="#000"/>
<circle cx="48.35" cy="521.47" r="2.1" fill="#000"/>
<circle cx="50.48" cy="521.47" r="2.1" fill="#000"/>
<circle cx="52.6" cy="521.47" r="2.1" fill="#000"/>
<circle cx="52.7" cy="497.1" r="2.1" fill="#000"/>
<circle cx="54.88" cy="497.1" r="2.1" fill="#000"/>
<circle cx="57.06" cy="497.1" r="2.1" fill="#000"/>
<circle cx="59.23" cy="497.1" r="2.1" fill="#000"/>
<circle cx="61.41" cy="497.1" r="2.1" fill="#000"/>
<circle cx="63.59" cy="497.1" r="2.1" fill="#000"/>
<circle cx="65.77" cy="497.1" r="2.1" fill="#000"/>
<circle cx="67.94" cy="497.1" r="2.1" fill="#000"/>
<circle cx="70.12" cy="497.1" r="2.1" fill="#000"/>
<circle cx="72.3" cy="497.1" r="2.1" fill="#000"/>
<circle cx="72.5" cy="472.73" r="2.1" fill="#000"/>
<circle cx="74.67" cy="472.73" r="2.1" fill="#000"/>
<circle cx="76.85" cy="472.73" r="2.1" fill="#000"/>
<circle cx="79.03" cy="472.73" r="2.1" fill="#000"/>
<circle cx="81.2" cy="472.73" r="2.1" fill="#000"/>
<circle cx="83.9" cy="448.37" r="2.1" fill="#000"/>
<circle cx="85.93" cy="448.37" r="2.1" fill="#000"/>
<circle cx="87.95" cy="448.37" r="2.1" fill="#000"/>
<circle cx="89.97" cy="448.37" r="2.1" fill="#000"/>
<circle cx="92" cy="448.37" r="2.1" fill="#000"/>
<circle cx="95.5" cy="448.37" r="2.1" fill="#000"/>
<circle cx="97.85" cy="448.37" r="2.1" fill="#000"/>
<circle cx="100.19" cy="448.37" r="2.1" fill="#000"/>
<circle cx="102.54" cy="448.37" r="2.1" fill="#000"/>
<circle cx="104.88" cy="448.37" r="2.1" fill="#000"/>
<circle cx="107.23" cy="448.37" r="2.1" fill="#000"/>
<circle cx="109.58" cy="448.37" r="2.1" fill="#000"/>
<circle cx="111.92" cy="448.37" r="2.1" fill="#000"/>
<circle cx="114.27" cy="448.37" r="2.1" fill="#000"/>
<circle cx="116.62" cy="448.37" r="2.1" fill="#000"/>
<circle cx="118.96" cy="448.37" r="2.1" fill="#000"/>
<circle cx="121.31" cy="448.37" r="2.1" fill="#000"/>
<circle cx="123.65" cy="448.37" r="2.1" fill="#000"/>
<circle cx="126" cy="448.37" r="2.1" fill="#000"/>
<circle cx="131.9" cy="448.37" r="2.1" fill="#000"/>
<circle cx="134.5" cy="448.37" r="2.1" fill="#000"/>
<circle cx="138.2" cy="448.37" r="2.1" fill="#000"/>
<circle cx="143.1" cy="424" r="2.1" fill="#000"/>
<circle cx="145.3" cy="399.63" r="2.1" fill="#000"/>
<circle cx="147.5" cy="399.63" r="2.1" fill="#000"/>
<circle cx="149.8" cy="375.27" r="2.1" fill="#000"/>
<circle cx="152.03" cy="375.27" r="2.1" fill="#000"/>
<circle cx="154.27" cy="375.27" r="2.1" fill="#000"/>
<circle cx="156.5" cy="375.27" r="2.1" fill="#000"/>
<circle cx="160.5" cy="375.27" r="2.1" fill="#000"/>
<circle cx="162.88" cy="375.27" r="2.1" fill="#000"/>
<circle cx="165.25" cy="375.27" r="2.1" fill="#000"/>
<circle cx="167.62" cy="375.27" r="2.1" fill="#000"/>
<circle cx="170" cy="375.27" r="2.1" fill="#000"/>
<circle cx="174.5" cy="375.27" r="2.1" fill="#000"/>
<circle cx="176.62" cy="375.27" r="2.1" fill="#000"/>
<circle cx="178.75" cy="375.27" r="2.1" fill="#000"/>
<circle cx="180.88" cy="375.27" r="2.1" fill="#000"/>
<circle cx="183" cy="375.27" r="2.1" fill="#000"/>
<circle cx="187.3" cy="375.27" r="2.1" fill="#000"/>
<circle cx="189.42" cy="375.27" r="2.1" fill="#000"/>
<circle cx="191.53" cy="375.27" r="2.1" fill="#000"/>
<circle cx="193.65" cy="375.27" r="2.1" fill="#000"/>
<circle cx="195.77" cy="375.27" r="2.1" fill="#000"/>
<circle cx="197.88" cy="375.27" r="2.1" fill="#000"/>
<circle cx="200" cy="375.27" r="2.1" fill="#000"/>
<circle cx="206.9" cy="375.27" r="2.1" fill="#000"/>
<circle cx="209.1" cy="375.27" r="2.1" fill="#000"/>
<circle cx="211.3" cy="375.27" r="2.1" fill="#000"/>
<circle cx="213.5" cy="375.27" r="2.1" fill="#000"/>
<circle cx="215.7" cy="375.27" r="2.1" fill="#000"/>
<circle cx="217.9" cy="375.27" r="2.1" fill="#000"/>
<circle cx="222.8" cy="350.9" r="2.1" fill="#000"/>
<circle cx="225.18" cy="350.9" r="2.1" fill="#000"/>
<circle cx="227.56" cy="350.9" r="2.1" fill="#000"/>
<circle cx="229.94" cy="350.9" r="2.1" fill="#000"/>
<circle cx="232.31" cy="350.9" r="2.1" fill="#000"/>
<circle cx="234.69" cy="350.9" r="2.1" fill="#000"/>
<circle cx="237.07" cy="350.9" r="2.1" fill="#000"/>
<circle cx="239.45" cy="350.9" r="2.1" fill="#000"/>
<circle cx="241.83" cy="350.9" r="2.1" fill="#000"/>
<circle cx="244.21" cy="350.9" r="2.1" fill="#000"/>
<circle cx="246.59" cy="350.9" r="2.1" fill="#000"/>
<circle cx="248.96" cy="350.9" r="2.1" fill="#000"/>
<circle cx="251.34" cy="350.9" r="2.1" fill="#000"/>
<circle cx="253.72" cy="350.9" r="2.1" fill="#000"/>
<circle cx="256.1" cy="350.9" r="2.1" fill="#000"/>
<line x1="390.9" y1="569.5" x2="610.2" y2="349.8" stroke="#b0b0b0" stroke-width="0.8" />
<line x1="390.9" y1="349.8" x2="390.9" y2="570.1" stroke="#262626" stroke-width="1.3" />
<line x1="386.9" y1="569.5" x2="390.9" y2="569.5" stroke="#262626" stroke-width="1.3" />
<text x="0" y="0" font-size="9.4" text-anchor="end" font-weight="normal" fill="#1c1c1c" transform="translate(384.7 572.88) scale(0.92 1)"  stroke="#1c1c1c" stroke-width="0.3">0.0</text>
<line x1="386.9" y1="459.65" x2="390.9" y2="459.65" stroke="#262626" stroke-width="1.3" />
<text x="0" y="0" font-size="9.4" text-anchor="end" font-weight="normal" fill="#1c1c1c" transform="translate(384.7 463.03) scale(0.92 1)"  stroke="#1c1c1c" stroke-width="0.3">0.5</text>
<line x1="386.9" y1="349.8" x2="390.9" y2="349.8" stroke="#262626" stroke-width="1.3" />
<text x="0" y="0" font-size="9.4" text-anchor="end" font-weight="normal" fill="#1c1c1c" transform="translate(384.7 353.18) scale(0.92 1)"  stroke="#1c1c1c" stroke-width="0.3">1.0</text>
<line x1="390.3" y1="569.5" x2="610.2" y2="569.5" stroke="#262626" stroke-width="1.3" />
<line x1="390.9" y1="569.5" x2="390.9" y2="573.5" stroke="#262626" stroke-width="1.3" />
<line x1="500.55" y1="569.5" x2="500.55" y2="573.5" stroke="#262626" stroke-width="1.3" />
<line x1="610.2" y1="569.5" x2="610.2" y2="573.5" stroke="#262626" stroke-width="1.3" />
<text x="0" y="0" font-size="9.4" text-anchor="middle" font-weight="normal" fill="#1c1c1c" transform="translate(390.9 583.68) scale(0.92 1)"  stroke="#1c1c1c" stroke-width="0.3">0.0</text>
<text x="0" y="0" font-size="9.4" text-anchor="middle" font-weight="normal" fill="#1c1c1c" transform="translate(500.55 583.68) scale(0.92 1)"  stroke="#1c1c1c" stroke-width="0.3">0.5</text>
<text x="0" y="0" font-size="9.4" text-anchor="middle" font-weight="normal" fill="#1c1c1c" transform="translate(610.2 583.68) scale(0.92 1)"  stroke="#1c1c1c" stroke-width="0.3">1.0</text>
<text x="0" y="0" font-size="9.4" text-anchor="middle" font-weight="normal" fill="#1c1c1c" transform="translate(500.55 596.08) scale(0.92 1)"  stroke="#1c1c1c" stroke-width="0.3">1 - Specificity</text>
<text x="0" y="0" font-size="9.61" text-anchor="middle" font-weight="normal" fill="#1c1c1c" transform="translate(367.56 458.15) rotate(-90) scale(0.92 1)"  stroke="#1c1c1c" stroke-width="0.3">Sensitivity</text>
<text x="0" y="0" font-size="14" text-anchor="start" font-weight="normal" fill="#1c1c1c" transform="translate(397.8 355.4) scale(1.0 1)"  stroke="#1c1c1c" stroke-width="0.3">CPS</text>
<text x="0" y="0" font-size="9.5" text-anchor="start" font-weight="normal" fill="#1c1c1c" transform="translate(529.5 537.12) scale(0.92 1)"  stroke="#1c1c1c" stroke-width="0.3">AUC: 0.74</text>
<text x="0" y="0" font-size="9.5" text-anchor="start" font-weight="normal" fill="#1c1c1c" transform="translate(529.5 549.42) scale(0.92 1)"  stroke="#1c1c1c" stroke-width="0.3">(95%CI: 0.55-0.92)</text>
<text x="0" y="0" font-size="9.5" text-anchor="start" font-weight="normal" fill="#1c1c1c" transform="translate(529.5 559.92) scale(0.92 1)"  stroke="#1c1c1c" stroke-width="0.3"><tspan font-style="italic">P</tspan> = 0.0198</text>
<polyline points="390.9,569.5 391.5,545.09 393.5,545.09 393.2,520.68 393.2,496.27 400.2,496.27 400.9,471.86 408.4,471.86 414.5,471.86 423.8,471.86 430.4,471.86 435,471.86 440.9,471.86 444.2,447.44 446.7,447.44 458.8,423.03 465.8,423.03 468.1,423.03 472.8,423.03 474.6,423.03 479.2,423.03 483.9,423.03 488.6,398.62 490.4,398.62 501.5,398.62 503.6,398.62 515.3,398.62 523.9,398.62 528.9,398.62 528.8,374.21 533.5,374.21 537.5,374.21 540.5,374.21 546.9,374.21 553.7,374.21 553.7,349.8 556.3,349.8 560.7,349.8 571.6,349.8 579.5,349.8 591.5,349.8 595.3,349.8 605.2,349.8 610.2,349.8" fill="none" stroke="#555" stroke-width="1.0" />
<circle cx="390.9" cy="569.5" r="2.1" fill="#000"/>
<circle cx="391.5" cy="545.09" r="2.1" fill="#000"/>
<circle cx="393.5" cy="545.09" r="2.1" fill="#000"/>
<circle cx="393.2" cy="520.68" r="2.1" fill="#000"/>
<circle cx="393.2" cy="496.27" r="2.1" fill="#000"/>
<circle cx="395.53" cy="496.27" r="2.1" fill="#000"/>
<circle cx="397.87" cy="496.27" r="2.1" fill="#000"/>
<circle cx="400.2" cy="496.27" r="2.1" fill="#000"/>
<circle cx="400.9" cy="471.86" r="2.1" fill="#000"/>
<circle cx="403.4" cy="471.86" r="2.1" fill="#000"/>
<circle cx="405.9" cy="471.86" r="2.1" fill="#000"/>
<circle cx="408.4" cy="471.86" r="2.1" fill="#000"/>
<circle cx="414.5" cy="471.86" r="2.1" fill="#000"/>
<circle cx="416.82" cy="471.86" r="2.1" fill="#000"/>
<circle cx="419.15" cy="471.86" r="2.1" fill="#000"/>
<circle cx="421.48" cy="471.86" r="2.1" fill="#000"/>
<circle cx="423.8" cy="471.86" r="2.1" fill="#000"/>
<circle cx="430.4" cy="471.86" r="2.1" fill="#000"/>
<circle cx="432.7" cy="471.86" r="2.1" fill="#000"/>
<circle cx="435" cy="471.86" r="2.1" fill="#000"/>
<circle cx="440.9" cy="471.86" r="2.1" fill="#000"/>
<circle cx="444.2" cy="447.44" r="2.1" fill="#000"/>
<circle cx="446.7" cy="447.44" r="2.1" fill="#000"/>
<circle cx="458.8" cy="423.03" r="2.1" fill="#000"/>
<circle cx="465.8" cy="423.03" r="2.1" fill="#000"/>
<circle cx="468.1" cy="423.03" r="2.1" fill="#000"/>
<circle cx="472.8" cy="423.03" r="2.1" fill="#000"/>
<circle cx="474.6" cy="423.03" r="2.1" fill="#000"/>
<circle cx="479.2" cy="423.03" r="2.1" fill="#000"/>
<circle cx="483.9" cy="423.03" r="2.1" fill="#000"/>
<circle cx="488.6" cy="398.62" r="2.1" fill="#000"/>
<circle cx="490.4" cy="398.62" r="2.1" fill="#000"/>
<circle cx="501.5" cy="398.62" r="2.1" fill="#000"/>
<circle cx="503.6" cy="398.62" r="2.1" fill="#000"/>
<circle cx="515.3" cy="398.62" r="2.1" fill="#000"/>
<circle cx="523.9" cy="398.62" r="2.1" fill="#000"/>
<circle cx="528.9" cy="398.62" r="2.1" fill="#000"/>
<circle cx="528.8" cy="374.21" r="2.1" fill="#000"/>
<circle cx="533.5" cy="374.21" r="2.1" fill="#000"/>
<circle cx="537.5" cy="374.21" r="2.1" fill="#000"/>
<circle cx="540.5" cy="374.21" r="2.1" fill="#000"/>
<circle cx="546.9" cy="374.21" r="2.1" fill="#000"/>
<circle cx="553.7" cy="374.21" r="2.1" fill="#000"/>
<circle cx="553.7" cy="349.8" r="2.1" fill="#000"/>
<circle cx="556.3" cy="349.8" r="2.1" fill="#000"/>
<circle cx="560.7" cy="349.8" r="2.1" fill="#000"/>
<circle cx="571.6" cy="349.8" r="2.1" fill="#000"/>
<circle cx="574.23" cy="349.8" r="2.1" fill="#000"/>
<circle cx="576.87" cy="349.8" r="2.1" fill="#000"/>
<circle cx="579.5" cy="349.8" r="2.1" fill="#000"/>
<circle cx="591.5" cy="349.8" r="2.1" fill="#000"/>
<circle cx="593.4" cy="349.8" r="2.1" fill="#000"/>
<circle cx="595.3" cy="349.8" r="2.1" fill="#000"/>
<circle cx="605.2" cy="349.8" r="2.1" fill="#000"/>
<circle cx="607.7" cy="349.8" r="2.1" fill="#000"/>
<circle cx="610.2" cy="349.8" r="2.1" fill="#000"/>
<line x1="36.8" y1="880.9" x2="257.9" y2="660.5" stroke="#b0b0b0" stroke-width="0.8" />
<line x1="36.8" y1="660.5" x2="36.8" y2="881.5" stroke="#262626" stroke-width="1.3" />
<line x1="32.8" y1="880.9" x2="36.8" y2="880.9" stroke="#262626" stroke-width="1.3" />
<text x="0" y="0" font-size="9.4" text-anchor="end" font-weight="normal" fill="#1c1c1c" transform="translate(30.6 884.28) scale(0.92 1)"  stroke="#1c1c1c" stroke-width="0.3">0.0</text>
<line x1="32.8" y1="770.7" x2="36.8" y2="770.7" stroke="#262626" stroke-width="1.3" />
<text x="0" y="0" font-size="9.4" text-anchor="end" font-weight="normal" fill="#1c1c1c" transform="translate(30.6 774.08) scale(0.92 1)"  stroke="#1c1c1c" stroke-width="0.3">0.5</text>
<line x1="32.8" y1="660.5" x2="36.8" y2="660.5" stroke="#262626" stroke-width="1.3" />
<text x="0" y="0" font-size="9.4" text-anchor="end" font-weight="normal" fill="#1c1c1c" transform="translate(30.6 663.88) scale(0.92 1)"  stroke="#1c1c1c" stroke-width="0.3">1.0</text>
<line x1="36.2" y1="880.9" x2="257.9" y2="880.9" stroke="#262626" stroke-width="1.3" />
<line x1="36.8" y1="880.9" x2="36.8" y2="884.9" stroke="#262626" stroke-width="1.3" />
<line x1="147.35" y1="880.9" x2="147.35" y2="884.9" stroke="#262626" stroke-width="1.3" />
<line x1="257.9" y1="880.9" x2="257.9" y2="884.9" stroke="#262626" stroke-width="1.3" />
<text x="0" y="0" font-size="9.4" text-anchor="middle" font-weight="normal" fill="#1c1c1c" transform="translate(36.8 895.08) scale(0.92 1)"  stroke="#1c1c1c" stroke-width="0.3">0.0</text>
<text x="0" y="0" font-size="9.4" text-anchor="middle" font-weight="normal" fill="#1c1c1c" transform="translate(147.35 895.08) scale(0.92 1)"  stroke="#1c1c1c" stroke-width="0.3">0.5</text>
<text x="0" y="0" font-size="9.4" text-anchor="middle" font-weight="normal" fill="#1c1c1c" transform="translate(257.9 895.08) scale(0.92 1)"  stroke="#1c1c1c" stroke-width="0.3">1.0</text>
<text x="0" y="0" font-size="9.4" text-anchor="middle" font-weight="normal" fill="#1c1c1c" transform="translate(147.35 907.48) scale(0.92 1)"  stroke="#1c1c1c" stroke-width="0.3">1 - Specificity</text>
<text x="0" y="0" font-size="9.61" text-anchor="middle" font-weight="normal" fill="#1c1c1c" transform="translate(13.46 769.2) rotate(-90) scale(0.92 1)"  stroke="#1c1c1c" stroke-width="0.3">Sensitivity</text>
<text x="0" y="0" font-size="14" text-anchor="start" font-weight="normal" fill="#1c1c1c" transform="translate(41.1 664.8) scale(1.0 1)"  stroke="#1c1c1c" stroke-width="0.3">Mac-2bp</text>
<text x="0" y="0" font-size="9.5" text-anchor="start" font-weight="normal" fill="#1c1c1c" transform="translate(175.4 848.52) scale(0.92 1)"  stroke="#1c1c1c" stroke-width="0.3">AUC: 0.77</text>
<text x="0" y="0" font-size="9.5" text-anchor="start" font-weight="normal" fill="#1c1c1c" transform="translate(175.4 860.82) scale(0.92 1)"  stroke="#1c1c1c" stroke-width="0.3">(95%CI: 0.62-0.91)</text>
<text x="0" y="0" font-size="9.5" text-anchor="start" font-weight="normal" fill="#1c1c1c" transform="translate(175.4 871.32) scale(0.92 1)"  stroke="#1c1c1c" stroke-width="0.3"><tspan font-style="italic">P</tspan> = 0.0084</text>
<polyline points="36.8,880.9 37.2,856.41 39.8,856.41 39.2,831.92 53,831.92 52.9,807.43 55.2,807.43 55.1,782.94 74.6,782.94 79.9,782.94 82.1,782.94 81.8,758.46 96.5,758.46 101.7,758.46 108.2,758.46 108.7,733.97 121.6,733.97 121.9,709.48 143.9,709.48 144.2,684.99 157.1,684.99 159.6,660.5 212.4,660.5 217.5,660.5 230.4,660.5 235.6,660.5 246,660.5 250.8,660.5 257.9,660.5" fill="none" stroke="#555" stroke-width="1.0" />
<circle cx="36.8" cy="880.9" r="2.1" fill="#000"/>
<circle cx="37.2" cy="856.41" r="2.1" fill="#000"/>
<circle cx="39.8" cy="856.41" r="2.1" fill="#000"/>
<circle cx="39.2" cy="831.92" r="2.1" fill="#000"/>
<circle cx="41.5" cy="831.92" r="2.1" fill="#000"/>
<circle cx="43.8" cy="831.92" r="2.1" fill="#000"/>
<circle cx="46.1" cy="831.92" r="2.1" fill="#000"/>
<circle cx="48.4" cy="831.92" r="2.1" fill="#000"/>
<circle cx="50.7" cy="831.92" r="2.1" fill="#000"/>
<circle cx="53" cy="831.92" r="2.1" fill="#000"/>
<circle cx="52.9" cy="807.43" r="2.1" fill="#000"/>
<circle cx="55.2" cy="807.43" r="2.1" fill="#000"/>
<circle cx="55.1" cy="782.94" r="2.1" fill="#000"/>
<circle cx="57.54" cy="782.94" r="2.1" fill="#000"/>
<circle cx="59.98" cy="782.94" r="2.1" fill="#000"/>
<circle cx="62.41" cy="782.94" r="2.1" fill="#000"/>
<circle cx="64.85" cy="782.94" r="2.1" fill="#000"/>
<circle cx="67.29" cy="782.94" r="2.1" fill="#000"/>
<circle cx="69.72" cy="782.94" r="2.1" fill="#000"/>
<circle cx="72.16" cy="782.94" r="2.1" fill="#000"/>
<circle cx="74.6" cy="782.94" r="2.1" fill="#000"/>
<circle cx="79.9" cy="782.94" r="2.1" fill="#000"/>
<circle cx="82.1" cy="782.94" r="2.1" fill="#000"/>
<circle cx="81.8" cy="758.46" r="2.1" fill="#000"/>
<circle cx="84.25" cy="758.46" r="2.1" fill="#000"/>
<circle cx="86.7" cy="758.46" r="2.1" fill="#000"/>
<circle cx="89.15" cy="758.46" r="2.1" fill="#000"/>
<circle cx="91.6" cy="758.46" r="2.1" fill="#000"/>
<circle cx="94.05" cy="758.46" r="2.1" fill="#000"/>
<circle cx="96.5" cy="758.46" r="2.1" fill="#000"/>
<circle cx="101.7" cy="758.46" r="2.1" fill="#000"/>
<circle cx="103.87" cy="758.46" r="2.1" fill="#000"/>
<circle cx="106.03" cy="758.46" r="2.1" fill="#000"/>
<circle cx="108.2" cy="758.46" r="2.1" fill="#000"/>
<circle cx="108.7" cy="733.97" r="2.1" fill="#000"/>
<circle cx="110.85" cy="733.97" r="2.1" fill="#000"/>
<circle cx="113" cy="733.97" r="2.1" fill="#000"/>
<circle cx="115.15" cy="733.97" r="2.1" fill="#000"/>
<circle cx="117.3" cy="733.97" r="2.1" fill="#000"/>
<circle cx="119.45" cy="733.97" r="2.1" fill="#000"/>
<circle cx="121.6" cy="733.97" r="2.1" fill="#000"/>
<circle cx="121.9" cy="709.48" r="2.1" fill="#000"/>
<circle cx="124.1" cy="709.48" r="2.1" fill="#000"/>
<circle cx="126.3" cy="709.48" r="2.1" fill="#000"/>
<circle cx="128.5" cy="709.48" r="2.1" fill="#000"/>
<circle cx="130.7" cy="709.48" r="2.1" fill="#000"/>
<circle cx="132.9" cy="709.48" r="2.1" fill="#000"/>
<circle cx="135.1" cy="709.48" r="2.1" fill="#000"/>
<circle cx="137.3" cy="709.48" r="2.1" fill="#000"/>
<circle cx="139.5" cy="709.48" r="2.1" fill="#000"/>
<circle cx="141.7" cy="709.48" r="2.1" fill="#000"/>
<circle cx="143.9" cy="709.48" r="2.1" fill="#000"/>
<circle cx="144.2" cy="684.99" r="2.1" fill="#000"/>
<circle cx="146.35" cy="684.99" r="2.1" fill="#000"/>
<circle cx="148.5" cy="684.99" r="2.1" fill="#000"/>
<circle cx="150.65" cy="684.99" r="2.1" fill="#000"/>
<circle cx="152.8" cy="684.99" r="2.1" fill="#000"/>
<circle cx="154.95" cy="684.99" r="2.1" fill="#000"/>
<circle cx="157.1" cy="684.99" r="2.1" fill="#000"/>
<circle cx="159.6" cy="660.5" r="2.1" fill="#000"/>
<circle cx="161.9" cy="660.5" r="2.1" fill="#000"/>
<circle cx="164.19" cy="660.5" r="2.1" fill="#000"/>
<circle cx="166.49" cy="660.5" r="2.1" fill="#000"/>
<circle cx="168.78" cy="660.5" r="2.1" fill="#000"/>
<circle cx="171.08" cy="660.5" r="2.1" fill="#000"/>
<circle cx="173.37" cy="660.5" r="2.1" fill="#000"/>
<circle cx="175.67" cy="660.5" r="2.1" fill="#000"/>
<circle cx="177.97" cy="660.5" r="2.1" fill="#000"/>
<circle cx="180.26" cy="660.5" r="2.1" fill="#000"/>
<circle cx="182.56" cy="660.5" r="2.1" fill="#000"/>
<circle cx="184.85" cy="660.5" r="2.1" fill="#000"/>
<circle cx="187.15" cy="660.5" r="2.1" fill="#000"/>
<circle cx="189.44" cy="660.5" r="2.1" fill="#000"/>
<circle cx="191.74" cy="660.5" r="2.1" fill="#000"/>
<circle cx="194.03" cy="660.5" r="2.1" fill="#000"/>
<circle cx="196.33" cy="660.5" r="2.1" fill="#000"/>
<circle cx="198.63" cy="660.5" r="2.1" fill="#000"/>
<circle cx="200.92" cy="660.5" r="2.1" fill="#000"/>
<circle cx="203.22" cy="660.5" r="2.1" fill="#000"/>
<circle cx="205.51" cy="660.5" r="2.1" fill="#000"/>
<circle cx="207.81" cy="660.5" r="2.1" fill="#000"/>
<circle cx="210.1" cy="660.5" r="2.1" fill="#000"/>
<circle cx="212.4" cy="660.5" r="2.1" fill="#000"/>
<circle cx="217.5" cy="660.5" r="2.1" fill="#000"/>
<circle cx="219.65" cy="660.5" r="2.1" fill="#000"/>
<circle cx="221.8" cy="660.5" r="2.1" fill="#000"/>
<circle cx="223.95" cy="660.5" r="2.1" fill="#000"/>
<circle cx="226.1" cy="660.5" r="2.1" fill="#000"/>
<circle cx="228.25" cy="660.5" r="2.1" fill="#000"/>
<circle cx="230.4" cy="660.5" r="2.1" fill="#000"/>
<circle cx="235.6" cy="660.5" r="2.1" fill="#000"/>
<circle cx="237.68" cy="660.5" r="2.1" fill="#000"/>
<circle cx="239.76" cy="660.5" r="2.1" fill="#000"/>
<circle cx="241.84" cy="660.5" r="2.1" fill="#000"/>
<circle cx="243.92" cy="660.5" r="2.1" fill="#000"/>
<circle cx="246" cy="660.5" r="2.1" fill="#000"/>
<circle cx="250.8" cy="660.5" r="2.1" fill="#000"/>
<circle cx="253.17" cy="660.5" r="2.1" fill="#000"/>
<circle cx="255.53" cy="660.5" r="2.1" fill="#000"/>
<circle cx="257.9" cy="660.5" r="2.1" fill="#000"/>
<line x1="391.6" y1="880.9" x2="610.9" y2="660.9" stroke="#b0b0b0" stroke-width="0.8" />
<line x1="391.6" y1="660.9" x2="391.6" y2="881.5" stroke="#262626" stroke-width="1.3" />
<line x1="387.6" y1="880.9" x2="391.6" y2="880.9" stroke="#262626" stroke-width="1.3" />
<text x="0" y="0" font-size="9.4" text-anchor="end" font-weight="normal" fill="#1c1c1c" transform="translate(385.4 884.28) scale(0.92 1)"  stroke="#1c1c1c" stroke-width="0.3">0.0</text>
<line x1="387.6" y1="770.9" x2="391.6" y2="770.9" stroke="#262626" stroke-width="1.3" />
<text x="0" y="0" font-size="9.4" text-anchor="end" font-weight="normal" fill="#1c1c1c" transform="translate(385.4 774.28) scale(0.92 1)"  stroke="#1c1c1c" stroke-width="0.3">0.5</text>
<line x1="387.6" y1="660.9" x2="391.6" y2="660.9" stroke="#262626" stroke-width="1.3" />
<text x="0" y="0" font-size="9.4" text-anchor="end" font-weight="normal" fill="#1c1c1c" transform="translate(385.4 664.28) scale(0.92 1)"  stroke="#1c1c1c" stroke-width="0.3">1.0</text>
<line x1="391" y1="880.9" x2="610.9" y2="880.9" stroke="#262626" stroke-width="1.3" />
<line x1="391.6" y1="880.9" x2="391.6" y2="884.9" stroke="#262626" stroke-width="1.3" />
<line x1="501.25" y1="880.9" x2="501.25" y2="884.9" stroke="#262626" stroke-width="1.3" />
<line x1="610.9" y1="880.9" x2="610.9" y2="884.9" stroke="#262626" stroke-width="1.3" />
<text x="0" y="0" font-size="9.4" text-anchor="middle" font-weight="normal" fill="#1c1c1c" transform="translate(391.6 895.08) scale(0.92 1)"  stroke="#1c1c1c" stroke-width="0.3">0.0</text>
<text x="0" y="0" font-size="9.4" text-anchor="middle" font-weight="normal" fill="#1c1c1c" transform="translate(501.25 895.08) scale(0.92 1)"  stroke="#1c1c1c" stroke-width="0.3">0.5</text>
<text x="0" y="0" font-size="9.4" text-anchor="middle" font-weight="normal" fill="#1c1c1c" transform="translate(610.9 895.08) scale(0.92 1)"  stroke="#1c1c1c" stroke-width="0.3">1.0</text>
<text x="0" y="0" font-size="9.4" text-anchor="middle" font-weight="normal" fill="#1c1c1c" transform="translate(501.25 907.48) scale(0.92 1)"  stroke="#1c1c1c" stroke-width="0.3">1 - Specificity</text>
<text x="0" y="0" font-size="9.61" text-anchor="middle" font-weight="normal" fill="#1c1c1c" transform="translate(368.26 769.4) rotate(-90) scale(0.92 1)"  stroke="#1c1c1c" stroke-width="0.3">Sensitivity</text>
<text x="0" y="0" font-size="14" text-anchor="start" font-weight="normal" fill="#1c1c1c" transform="translate(396.1 665.2) scale(1.0 1)"  stroke="#1c1c1c" stroke-width="0.3">ALBI</text>
<text x="0" y="0" font-size="9.5" text-anchor="start" font-weight="normal" fill="#1c1c1c" transform="translate(530.2 848.52) scale(0.92 1)"  stroke="#1c1c1c" stroke-width="0.3">AUC: 0.84</text>
<text x="0" y="0" font-size="9.5" text-anchor="start" font-weight="normal" fill="#1c1c1c" transform="translate(530.2 860.82) scale(0.92 1)"  stroke="#1c1c1c" stroke-width="0.3">(95%CI: 0.73-0.94)</text>
<text x="0" y="0" font-size="9.5" text-anchor="start" font-weight="normal" fill="#1c1c1c" transform="translate(530.2 871.32) scale(0.92 1)"  stroke="#1c1c1c" stroke-width="0.3"><tspan font-style="italic">P</tspan> = 0.0008</text>
<polyline points="391.6,880.9 391.3,856.46 395.6,856.46 395.9,832.01 400.2,832.01 402.4,807.57 404.6,807.57 404.5,783.12 409.4,783.12 429.4,783.12 429.1,758.68 428.9,734.23 446.8,734.23 446.9,709.79 449,685.34 467,685.34 475.7,685.34 489.2,685.34 495.8,685.34 495.7,660.9 506.6,660.9 511.7,660.9 513.2,660.9 517.9,660.9 524.6,660.9 529.1,660.9 533.8,660.9 538.3,660.9 540.6,660.9 545.1,660.9 552,660.9 556.5,660.9 557.3,660.9 562.6,660.9 564.1,660.9 571,660.9 577.8,660.9 582.7,660.9 603.7,660.9 609.7,660.9 610.9,660.9" fill="none" stroke="#555" stroke-width="1.0" />
<circle cx="391.6" cy="880.9" r="2.1" fill="#000"/>
<circle cx="391.3" cy="856.46" r="2.1" fill="#000"/>
<circle cx="393.45" cy="856.46" r="2.1" fill="#000"/>
<circle cx="395.6" cy="856.46" r="2.1" fill="#000"/>
<circle cx="395.9" cy="832.01" r="2.1" fill="#000"/>
<circle cx="398.05" cy="832.01" r="2.1" fill="#000"/>
<circle cx="400.2" cy="832.01" r="2.1" fill="#000"/>
<circle cx="402.4" cy="807.57" r="2.1" fill="#000"/>
<circle cx="404.6" cy="807.57" r="2.1" fill="#000"/>
<circle cx="404.5" cy="783.12" r="2.1" fill="#000"/>
<circle cx="409.4" cy="783.12" r="2.1" fill="#000"/>
<circle cx="411.62" cy="783.12" r="2.1" fill="#000"/>
<circle cx="413.84" cy="783.12" r="2.1" fill="#000"/>
<circle cx="416.07" cy="783.12" r="2.1" fill="#000"/>
<circle cx="418.29" cy="783.12" r="2.1" fill="#000"/>
<circle cx="420.51" cy="783.12" r="2.1" fill="#000"/>
<circle cx="422.73" cy="783.12" r="2.1" fill="#000"/>
<circle cx="424.96" cy="783.12" r="2.1" fill="#000"/>
<circle cx="427.18" cy="783.12" r="2.1" fill="#000"/>
<circle cx="429.4" cy="783.12" r="2.1" fill="#000"/>
<circle cx="429.1" cy="758.68" r="2.1" fill="#000"/>
<circle cx="428.9" cy="734.23" r="2.1" fill="#000"/>
<circle cx="431.14" cy="734.23" r="2.1" fill="#000"/>
<circle cx="433.38" cy="734.23" r="2.1" fill="#000"/>
<circle cx="435.61" cy="734.23" r="2.1" fill="#000"/>
<circle cx="437.85" cy="734.23" r="2.1" fill="#000"/>
<circle cx="440.09" cy="734.23" r="2.1" fill="#000"/>
<circle cx="442.32" cy="734.23" r="2.1" fill="#000"/>
<circle cx="444.56" cy="734.23" r="2.1" fill="#000"/>
<circle cx="446.8" cy="734.23" r="2.1" fill="#000"/>
<circle cx="446.9" cy="709.79" r="2.1" fill="#000"/>
<circle cx="449" cy="685.34" r="2.1" fill="#000"/>
<circle cx="451.25" cy="685.34" r="2.1" fill="#000"/>
<circle cx="453.5" cy="685.34" r="2.1" fill="#000"/>
<circle cx="455.75" cy="685.34" r="2.1" fill="#000"/>
<circle cx="458" cy="685.34" r="2.1" fill="#000"/>
<circle cx="460.25" cy="685.34" r="2.1" fill="#000"/>
<circle cx="462.5" cy="685.34" r="2.1" fill="#000"/>
<circle cx="464.75" cy="685.34" r="2.1" fill="#000"/>
<circle cx="467" cy="685.34" r="2.1" fill="#000"/>
<circle cx="475.7" cy="685.34" r="2.1" fill="#000"/>
<circle cx="477.95" cy="685.34" r="2.1" fill="#000"/>
<circle cx="480.2" cy="685.34" r="2.1" fill="#000"/>
<circle cx="482.45" cy="685.34" r="2.1" fill="#000"/>
<circle cx="484.7" cy="685.34" r="2.1" fill="#000"/>
<circle cx="486.95" cy="685.34" r="2.1" fill="#000"/>
<circle cx="489.2" cy="685.34" r="2.1" fill="#000"/>
<circle cx="495.8" cy="685.34" r="2.1" fill="#000"/>
<circle cx="495.7" cy="660.9" r="2.1" fill="#000"/>
<circle cx="497.88" cy="660.9" r="2.1" fill="#000"/>
<circle cx="500.06" cy="660.9" r="2.1" fill="#000"/>
<circle cx="502.24" cy="660.9" r="2.1" fill="#000"/>
<circle cx="504.42" cy="660.9" r="2.1" fill="#000"/>
<circle cx="506.6" cy="660.9" r="2.1" fill="#000"/>
<circle cx="511.7" cy="660.9" r="2.1" fill="#000"/>
<circle cx="513.2" cy="660.9" r="2.1" fill="#000"/>
<circle cx="517.9" cy="660.9" r="2.1" fill="#000"/>
<circle cx="524.6" cy="660.9" r="2.1" fill="#000"/>
<circle cx="526.85" cy="660.9" r="2.1" fill="#000"/>
<circle cx="529.1" cy="660.9" r="2.1" fill="#000"/>
<circle cx="533.8" cy="660.9" r="2.1" fill="#000"/>
<circle cx="538.3" cy="660.9" r="2.1" fill="#000"/>
<circle cx="540.6" cy="660.9" r="2.1" fill="#000"/>
<circle cx="545.1" cy="660.9" r="2.1" fill="#000"/>
<circle cx="547.4" cy="660.9" r="2.1" fill="#000"/>
<circle cx="549.7" cy="660.9" r="2.1" fill="#000"/>
<circle cx="552" cy="660.9" r="2.1" fill="#000"/>
<circle cx="556.9" cy="660.9" r="2.1" fill="#000"/>
<circle cx="562.6" cy="660.9" r="2.1" fill="#000"/>
<circle cx="564.1" cy="660.9" r="2.1" fill="#000"/>
<circle cx="571" cy="660.9" r="2.1" fill="#000"/>
<circle cx="573.27" cy="660.9" r="2.1" fill="#000"/>
<circle cx="575.53" cy="660.9" r="2.1" fill="#000"/>
<circle cx="577.8" cy="660.9" r="2.1" fill="#000"/>
<circle cx="582.7" cy="660.9" r="2.1" fill="#000"/>
<circle cx="585.03" cy="660.9" r="2.1" fill="#000"/>
<circle cx="587.37" cy="660.9" r="2.1" fill="#000"/>
<circle cx="589.7" cy="660.9" r="2.1" fill="#000"/>
<circle cx="592.03" cy="660.9" r="2.1" fill="#000"/>
<circle cx="594.37" cy="660.9" r="2.1" fill="#000"/>
<circle cx="596.7" cy="660.9" r="2.1" fill="#000"/>
<circle cx="599.03" cy="660.9" r="2.1" fill="#000"/>
<circle cx="601.37" cy="660.9" r="2.1" fill="#000"/>
<circle cx="603.7" cy="660.9" r="2.1" fill="#000"/>
<circle cx="609.7" cy="660.9" r="2.1" fill="#000"/>
<circle cx="610.9" cy="660.9" r="2.1" fill="#000"/>
<text x="0" y="0" font-size="34.65" font-weight="bold" fill="#000" stroke="#000" stroke-width="0.6" transform="translate(4.31 952.85) scale(0.93 1)">C</text>
<line x1="37.5" y1="960.4" x2="37.5" y2="1133.6" stroke="#262626" stroke-width="1.3" />
<line x1="33.5" y1="1133" x2="37.5" y2="1133" stroke="#262626" stroke-width="1.3" />
<text x="0" y="0" font-size="9.4" text-anchor="end" font-weight="normal" fill="#1c1c1c" transform="translate(31.3 1136.38) scale(0.92 1)"  stroke="#1c1c1c" stroke-width="0.3">0</text>
<line x1="33.5" y1="1054.2" x2="37.5" y2="1054.2" stroke="#262626" stroke-width="1.3" />
<text x="0" y="0" font-size="9.4" text-anchor="end" font-weight="normal" fill="#1c1c1c" transform="translate(31.3 1057.58) scale(0.92 1)"  stroke="#1c1c1c" stroke-width="0.3">50</text>
<line x1="33.5" y1="975.4" x2="37.5" y2="975.4" stroke="#262626" stroke-width="1.3" />
<text x="0" y="0" font-size="9.4" text-anchor="end" font-weight="normal" fill="#1c1c1c" transform="translate(31.3 978.78) scale(0.92 1)"  stroke="#1c1c1c" stroke-width="0.3">100</text>
<line x1="36.9" y1="1133" x2="253.3" y2="1133" stroke="#262626" stroke-width="1.3" />
<line x1="37.5" y1="1133" x2="37.5" y2="1137" stroke="#262626" stroke-width="1.3" />
<text x="0" y="0" font-size="9.4" text-anchor="middle" font-weight="normal" fill="#1c1c1c" transform="translate(37.5 1147.88) scale(0.92 1)"  stroke="#1c1c1c" stroke-width="0.3">0</text>
<line x1="80.66" y1="1133" x2="80.66" y2="1137" stroke="#262626" stroke-width="1.3" />
<text x="0" y="0" font-size="9.4" text-anchor="middle" font-weight="normal" fill="#1c1c1c" transform="translate(80.66 1147.88) scale(0.92 1)"  stroke="#1c1c1c" stroke-width="0.3">500</text>
<line x1="123.82" y1="1133" x2="123.82" y2="1137" stroke="#262626" stroke-width="1.3" />
<text x="0" y="0" font-size="9.4" text-anchor="middle" font-weight="normal" fill="#1c1c1c" transform="translate(123.82 1147.88) scale(0.92 1)"  stroke="#1c1c1c" stroke-width="0.3">1000</text>
<line x1="166.98" y1="1133" x2="166.98" y2="1137" stroke="#262626" stroke-width="1.3" />
<text x="0" y="0" font-size="9.4" text-anchor="middle" font-weight="normal" fill="#1c1c1c" transform="translate(166.98 1147.88) scale(0.92 1)"  stroke="#1c1c1c" stroke-width="0.3">1500</text>
<line x1="210.14" y1="1133" x2="210.14" y2="1137" stroke="#262626" stroke-width="1.3" />
<text x="0" y="0" font-size="9.4" text-anchor="middle" font-weight="normal" fill="#1c1c1c" transform="translate(210.14 1147.88) scale(0.92 1)"  stroke="#1c1c1c" stroke-width="0.3">2000</text>
<line x1="253.3" y1="1133" x2="253.3" y2="1137" stroke="#262626" stroke-width="1.3" />
<text x="0" y="0" font-size="9.4" text-anchor="middle" font-weight="normal" fill="#1c1c1c" transform="translate(253.3 1147.88) scale(0.92 1)"  stroke="#1c1c1c" stroke-width="0.3">2500</text>
<text x="0" y="0" font-size="9.72" text-anchor="middle" font-weight="normal" fill="#1c1c1c" transform="translate(145.4 1161.5) scale(0.92 1)"  stroke="#1c1c1c" stroke-width="0.3">day</text>
<text x="0" y="0" font-size="9.4" text-anchor="middle" font-weight="normal" fill="#1c1c1c" transform="translate(12.18 1046.7) rotate(-90) scale(0.92 1)"  stroke="#1c1c1c" stroke-width="0.3">Probability of Survival</text>
<polyline points="37.5,976.2 122.6,976.2 122.6,979.6 215.3,979.6 215.3,979.6" fill="none" stroke="#484848" stroke-width="1.0" />
<rect x="37.3" y="973.9" width="4.6" height="4.6" fill="#000"/>
<rect x="48.5" y="973.9" width="4.6" height="4.6" fill="#000"/>
<rect x="48.5" y="976.1" width="4.6" height="4.6" fill="#000"/>
<rect x="172.3" y="977.3" width="4.6" height="4.6" fill="#000"/>
<rect x="180.7" y="977.3" width="4.6" height="4.6" fill="#000"/>
<rect x="190.5" y="977.3" width="4.6" height="4.6" fill="#000"/>
<rect x="192.75" y="977.3" width="4.6" height="4.6" fill="#000"/>
<rect x="195" y="977.3" width="4.6" height="4.6" fill="#000"/>
<rect x="197.25" y="977.3" width="4.6" height="4.6" fill="#000"/>
<rect x="199.5" y="977.3" width="4.6" height="4.6" fill="#000"/>
<rect x="201.75" y="977.3" width="4.6" height="4.6" fill="#000"/>
<rect x="204" y="977.3" width="4.6" height="4.6" fill="#000"/>
<rect x="206.25" y="977.3" width="4.6" height="4.6" fill="#000"/>
<rect x="208.5" y="977.3" width="4.6" height="4.6" fill="#000"/>
<rect x="210.75" y="977.3" width="4.6" height="4.6" fill="#000"/>
<rect x="213" y="977.3" width="4.6" height="4.6" fill="#000"/>
<polyline points="37.5,976 41,976 41,977.3 46,977.3 46,979.3 56.7,979.3 56.7,981.8 84.7,981.8 84.7,984.7 103.5,984.7 103.5,987.5 117,987.5 117,990.3 173.2,990.3 173.2,994.5 187.2,994.5 187.2,997.9 213.9,997.9 213.9,1020.4 215.5,1020.4 215.5,1020.4" fill="none" stroke="#6a6a6a" stroke-width="1.0" />
<circle cx="43.5" cy="978.5" r="2.3" fill="#000"/>
<circle cx="52.5" cy="980" r="2.3" fill="#000"/>
<circle cx="59" cy="981.8" r="2.3" fill="#000"/>
<circle cx="61.27" cy="981.8" r="2.3" fill="#000"/>
<circle cx="63.55" cy="981.8" r="2.3" fill="#000"/>
<circle cx="65.82" cy="981.8" r="2.3" fill="#000"/>
<circle cx="68.1" cy="981.8" r="2.3" fill="#000"/>
<circle cx="98.8" cy="984.7" r="2.3" fill="#000"/>
<circle cx="107.8" cy="987.5" r="2.3" fill="#000"/>
<circle cx="126.8" cy="990.3" r="2.3" fill="#000"/>
<circle cx="130.2" cy="990.3" r="2.3" fill="#000"/>
<circle cx="140.9" cy="990.3" r="2.3" fill="#000"/>
<circle cx="152.7" cy="990.3" r="2.3" fill="#000"/>
<circle cx="159.7" cy="990.3" r="2.3" fill="#000"/>
<circle cx="165.6" cy="990.3" r="2.3" fill="#000"/>
<circle cx="174.6" cy="994.5" r="2.3" fill="#000"/>
<circle cx="181.6" cy="994.5" r="2.3" fill="#000"/>
<circle cx="183.8" cy="994.5" r="2.3" fill="#000"/>
<circle cx="189.2" cy="997.9" r="2.3" fill="#000"/>
<circle cx="197" cy="997.9" r="2.3" fill="#000"/>
<circle cx="199.41" cy="997.9" r="2.3" fill="#000"/>
<circle cx="201.83" cy="997.9" r="2.3" fill="#000"/>
<circle cx="204.24" cy="997.9" r="2.3" fill="#000"/>
<circle cx="206.66" cy="997.9" r="2.3" fill="#000"/>
<circle cx="209.07" cy="997.9" r="2.3" fill="#000"/>
<circle cx="211.49" cy="997.9" r="2.3" fill="#000"/>
<circle cx="213.9" cy="997.9" r="2.3" fill="#000"/>
<circle cx="214.5" cy="1020.4" r="2.3" fill="#000"/>
<line x1="223.5" y1="978.8" x2="223.5" y2="1020.9" stroke="#555" stroke-width="1.0" />
<line x1="220.7" y1="978.8" x2="226.3" y2="978.8" stroke="#555" stroke-width="1.0" />
<line x1="220.7" y1="1020.9" x2="226.3" y2="1020.9" stroke="#555" stroke-width="1.0" />
<text x="0" y="0" font-size="9.72" text-anchor="start" font-weight="normal" fill="#1c1c1c" transform="translate(229.3 1003) scale(0.92 1)"  stroke="#1c1c1c" stroke-width="0.3"><tspan font-style="italic">P</tspan> &lt; 0.05</text>
<line x1="47.4" y1="1099" x2="57.9" y2="1099" stroke="#6a6a6a" stroke-width="1.0" />
<circle cx="52.7" cy="1099" r="2.3" fill="#000"/>
<text x="0" y="0" font-size="9.5" text-anchor="start" font-weight="normal" fill="#1c1c1c" transform="translate(66 1102.42) scale(0.92 1)"  stroke="#1c1c1c" stroke-width="0.3">LBP ≥ 2.6 ug/mL</text>
<line x1="47.4" y1="1114" x2="57.9" y2="1114" stroke="#6a6a6a" stroke-width="1.0" />
<rect x="50.4" y="1111.7" width="4.6" height="4.6" fill="#000"/>
<text x="0" y="0" font-size="9.5" text-anchor="start" font-weight="normal" fill="#1c1c1c" transform="translate(66 1117.42) scale(0.92 1)"  stroke="#1c1c1c" stroke-width="0.3">LBP &lt; 2.6 ug/mL</text>
<line x1="390.5" y1="956.8" x2="390.5" y2="1133.7" stroke="#262626" stroke-width="1.3" />
<line x1="386.5" y1="1133.1" x2="390.5" y2="1133.1" stroke="#262626" stroke-width="1.3" />
<text x="0" y="0" font-size="9.4" text-anchor="end" font-weight="normal" fill="#1c1c1c" transform="translate(384.3 1136.48) scale(0.92 1)"  stroke="#1c1c1c" stroke-width="0.3">0</text>
<line x1="386.5" y1="1052.65" x2="390.5" y2="1052.65" stroke="#262626" stroke-width="1.3" />
<text x="0" y="0" font-size="9.4" text-anchor="end" font-weight="normal" fill="#1c1c1c" transform="translate(384.3 1056.03) scale(0.92 1)"  stroke="#1c1c1c" stroke-width="0.3">50</text>
<line x1="386.5" y1="972.2" x2="390.5" y2="972.2" stroke="#262626" stroke-width="1.3" />
<text x="0" y="0" font-size="9.4" text-anchor="end" font-weight="normal" fill="#1c1c1c" transform="translate(384.3 975.58) scale(0.92 1)"  stroke="#1c1c1c" stroke-width="0.3">100</text>
<line x1="389.9" y1="1133.1" x2="612.1" y2="1133.1" stroke="#262626" stroke-width="1.3" />
<line x1="390.5" y1="1133.1" x2="390.5" y2="1137.1" stroke="#262626" stroke-width="1.3" />
<text x="0" y="0" font-size="9.4" text-anchor="middle" font-weight="normal" fill="#1c1c1c" transform="translate(390.5 1147.98) scale(0.92 1)"  stroke="#1c1c1c" stroke-width="0.3">0</text>
<line x1="434.82" y1="1133.1" x2="434.82" y2="1137.1" stroke="#262626" stroke-width="1.3" />
<text x="0" y="0" font-size="9.4" text-anchor="middle" font-weight="normal" fill="#1c1c1c" transform="translate(434.82 1147.98) scale(0.92 1)"  stroke="#1c1c1c" stroke-width="0.3">500</text>
<line x1="479.14" y1="1133.1" x2="479.14" y2="1137.1" stroke="#262626" stroke-width="1.3" />
<text x="0" y="0" font-size="9.4" text-anchor="middle" font-weight="normal" fill="#1c1c1c" transform="translate(479.14 1147.98) scale(0.92 1)"  stroke="#1c1c1c" stroke-width="0.3">1000</text>
<line x1="523.46" y1="1133.1" x2="523.46" y2="1137.1" stroke="#262626" stroke-width="1.3" />
<text x="0" y="0" font-size="9.4" text-anchor="middle" font-weight="normal" fill="#1c1c1c" transform="translate(523.46 1147.98) scale(0.92 1)"  stroke="#1c1c1c" stroke-width="0.3">1500</text>
<line x1="567.78" y1="1133.1" x2="567.78" y2="1137.1" stroke="#262626" stroke-width="1.3" />
<text x="0" y="0" font-size="9.4" text-anchor="middle" font-weight="normal" fill="#1c1c1c" transform="translate(567.78 1147.98) scale(0.92 1)"  stroke="#1c1c1c" stroke-width="0.3">2000</text>
<line x1="612.1" y1="1133.1" x2="612.1" y2="1137.1" stroke="#262626" stroke-width="1.3" />
<text x="0" y="0" font-size="9.4" text-anchor="middle" font-weight="normal" fill="#1c1c1c" transform="translate(612.1 1147.98) scale(0.92 1)"  stroke="#1c1c1c" stroke-width="0.3">2500</text>
<text x="0" y="0" font-size="9.72" text-anchor="middle" font-weight="normal" fill="#1c1c1c" transform="translate(501.3 1161.6) scale(0.92 1)"  stroke="#1c1c1c" stroke-width="0.3">day</text>
<text x="0" y="0" font-size="9.4" text-anchor="middle" font-weight="normal" fill="#1c1c1c" transform="translate(366.58 1042.9) rotate(-90) scale(0.92 1)"  stroke="#1c1c1c" stroke-width="0.3">Probability of Survival</text>
<polyline points="390.5,972.2 407.4,972.2 407.4,995.4 472.9,995.4 472.9,1023.1 479.2,1023.1 479.2,1050.8 531.6,1050.8 531.6,1092 572,1092 572,1092" fill="none" stroke="#6a6a6a" stroke-width="1.0" />
<circle cx="392.4" cy="972.2" r="2.3" fill="#000"/>
<circle cx="404.4" cy="972.2" r="2.3" fill="#000"/>
<circle cx="411.9" cy="995.4" r="2.3" fill="#000"/>
<circle cx="486.7" cy="1050.8" r="2.3" fill="#000"/>
<circle cx="572" cy="1092" r="2.3" fill="#000"/>
<polyline points="390.5,972.2 396,972.2 396,973.7 437.3,973.7 437.3,975.6 459.8,975.6 459.8,977.4 544,977.4 544,979.3 571.3,979.3 571.3,995 573,995 573,995" fill="none" stroke="#6a6a6a" stroke-width="1.0" />
<rect x="390.2" y="969.9" width="4.6" height="4.6" fill="#000"/>
<rect x="393.7" y="970.9" width="4.6" height="4.6" fill="#000"/>
<rect x="397.2" y="971.4" width="4.6" height="4.6" fill="#000"/>
<rect x="412.5" y="971.4" width="4.6" height="4.6" fill="#000"/>
<rect x="414.85" y="971.4" width="4.6" height="4.6" fill="#000"/>
<rect x="417.2" y="971.4" width="4.6" height="4.6" fill="#000"/>
<rect x="419.55" y="971.4" width="4.6" height="4.6" fill="#000"/>
<rect x="421.9" y="971.4" width="4.6" height="4.6" fill="#000"/>
<rect x="451.8" y="973.3" width="4.6" height="4.6" fill="#000"/>
<rect x="460.5" y="975.1" width="4.6" height="4.6" fill="#000"/>
<rect x="479.9" y="975.1" width="4.6" height="4.6" fill="#000"/>
<rect x="494.1" y="975.1" width="4.6" height="4.6" fill="#000"/>
<rect x="507.2" y="975.1" width="4.6" height="4.6" fill="#000"/>
<rect x="514.3" y="975.1" width="4.6" height="4.6" fill="#000"/>
<rect x="520.3" y="975.1" width="4.6" height="4.6" fill="#000"/>
<rect x="529.3" y="975.1" width="4.6" height="4.6" fill="#000"/>
<rect x="537.9" y="975.1" width="4.6" height="4.6" fill="#000"/>
<rect x="543.5" y="977" width="4.6" height="4.6" fill="#000"/>
<rect x="545.88" y="977" width="4.6" height="4.6" fill="#000"/>
<rect x="548.26" y="977" width="4.6" height="4.6" fill="#000"/>
<rect x="550.65" y="977" width="4.6" height="4.6" fill="#000"/>
<rect x="553.03" y="977" width="4.6" height="4.6" fill="#000"/>
<rect x="555.41" y="977" width="4.6" height="4.6" fill="#000"/>
<rect x="557.79" y="977" width="4.6" height="4.6" fill="#000"/>
<rect x="560.17" y="977" width="4.6" height="4.6" fill="#000"/>
<rect x="562.55" y="977" width="4.6" height="4.6" fill="#000"/>
<rect x="564.94" y="977" width="4.6" height="4.6" fill="#000"/>
<rect x="567.32" y="977" width="4.6" height="4.6" fill="#000"/>
<rect x="569.7" y="977" width="4.6" height="4.6" fill="#000"/>
<rect x="570.5" y="992.7" width="4.6" height="4.6" fill="#000"/>
<line x1="582.5" y1="995.4" x2="582.5" y2="1093.4" stroke="#555" stroke-width="1.0" />
<line x1="579.7" y1="995.4" x2="585.3" y2="995.4" stroke="#555" stroke-width="1.0" />
<line x1="579.7" y1="1093.4" x2="585.3" y2="1093.4" stroke="#555" stroke-width="1.0" />
<text x="0" y="0" font-size="9.72" text-anchor="start" font-weight="normal" fill="#1c1c1c" transform="translate(587 1046.4) scale(0.92 1)"  stroke="#1c1c1c" stroke-width="0.3"><tspan font-style="italic">P</tspan> &lt; 0.0001</text>
<line x1="401.8" y1="1097.9" x2="412.3" y2="1097.9" stroke="#6a6a6a" stroke-width="1.0" />
<circle cx="407.1" cy="1097.9" r="2.3" fill="#000"/>
<text x="0" y="0" font-size="9.5" text-anchor="start" font-weight="normal" fill="#1c1c1c" transform="translate(420.4 1101.32) scale(0.92 1)"  stroke="#1c1c1c" stroke-width="0.3">CPS Ab ≥ 0.1</text>
<line x1="401.8" y1="1114" x2="412.3" y2="1114" stroke="#6a6a6a" stroke-width="1.0" />
<rect x="404.8" y="1111.7" width="4.6" height="4.6" fill="#000"/>
<text x="0" y="0" font-size="9.5" text-anchor="start" font-weight="normal" fill="#1c1c1c" transform="translate(420.4 1117.42) scale(0.92 1)"  stroke="#1c1c1c" stroke-width="0.3">CPS Ab &lt; 0.1</text>
<line x1="36.8" y1="1203.3" x2="36.8" y2="1379" stroke="#262626" stroke-width="1.3" />
<line x1="32.8" y1="1378.4" x2="36.8" y2="1378.4" stroke="#262626" stroke-width="1.3" />
<text x="0" y="0" font-size="9.4" text-anchor="end" font-weight="normal" fill="#1c1c1c" transform="translate(30.6 1381.78) scale(0.92 1)"  stroke="#1c1c1c" stroke-width="0.3">0</text>
<line x1="32.8" y1="1298.25" x2="36.8" y2="1298.25" stroke="#262626" stroke-width="1.3" />
<text x="0" y="0" font-size="9.4" text-anchor="end" font-weight="normal" fill="#1c1c1c" transform="translate(30.6 1301.63) scale(0.92 1)"  stroke="#1c1c1c" stroke-width="0.3">50</text>
<line x1="32.8" y1="1218.1" x2="36.8" y2="1218.1" stroke="#262626" stroke-width="1.3" />
<text x="0" y="0" font-size="9.4" text-anchor="end" font-weight="normal" fill="#1c1c1c" transform="translate(30.6 1221.48) scale(0.92 1)"  stroke="#1c1c1c" stroke-width="0.3">100</text>
<line x1="36.2" y1="1378.4" x2="257.2" y2="1378.4" stroke="#262626" stroke-width="1.3" />
<line x1="36.8" y1="1378.4" x2="36.8" y2="1382.4" stroke="#262626" stroke-width="1.3" />
<text x="0" y="0" font-size="9.4" text-anchor="middle" font-weight="normal" fill="#1c1c1c" transform="translate(36.8 1393.28) scale(0.92 1)"  stroke="#1c1c1c" stroke-width="0.3">0</text>
<line x1="80.88" y1="1378.4" x2="80.88" y2="1382.4" stroke="#262626" stroke-width="1.3" />
<text x="0" y="0" font-size="9.4" text-anchor="middle" font-weight="normal" fill="#1c1c1c" transform="translate(80.88 1393.28) scale(0.92 1)"  stroke="#1c1c1c" stroke-width="0.3">500</text>
<line x1="124.96" y1="1378.4" x2="124.96" y2="1382.4" stroke="#262626" stroke-width="1.3" />
<text x="0" y="0" font-size="9.4" text-anchor="middle" font-weight="normal" fill="#1c1c1c" transform="translate(124.96 1393.28) scale(0.92 1)"  stroke="#1c1c1c" stroke-width="0.3">1000</text>
<line x1="169.04" y1="1378.4" x2="169.04" y2="1382.4" stroke="#262626" stroke-width="1.3" />
<text x="0" y="0" font-size="9.4" text-anchor="middle" font-weight="normal" fill="#1c1c1c" transform="translate(169.04 1393.28) scale(0.92 1)"  stroke="#1c1c1c" stroke-width="0.3">1500</text>
<line x1="213.12" y1="1378.4" x2="213.12" y2="1382.4" stroke="#262626" stroke-width="1.3" />
<text x="0" y="0" font-size="9.4" text-anchor="middle" font-weight="normal" fill="#1c1c1c" transform="translate(213.12 1393.28) scale(0.92 1)"  stroke="#1c1c1c" stroke-width="0.3">2000</text>
<line x1="257.2" y1="1378.4" x2="257.2" y2="1382.4" stroke="#262626" stroke-width="1.3" />
<text x="0" y="0" font-size="9.4" text-anchor="middle" font-weight="normal" fill="#1c1c1c" transform="translate(257.2 1393.28) scale(0.92 1)"  stroke="#1c1c1c" stroke-width="0.3">2500</text>
<text x="0" y="0" font-size="9.72" text-anchor="middle" font-weight="normal" fill="#1c1c1c" transform="translate(147 1406.9) scale(0.92 1)"  stroke="#1c1c1c" stroke-width="0.3">day</text>
<text x="0" y="0" font-size="9.4" text-anchor="middle" font-weight="normal" fill="#1c1c1c" transform="translate(11.28 1291.8) rotate(-90) scale(0.92 1)"  stroke="#1c1c1c" stroke-width="0.3">Probability of Survival</text>
<polyline points="36.8,1218.1 220.4,1218.1 220.4,1218.1" fill="none" stroke="#484848" stroke-width="1.0" />
<rect x="35.6" y="1215.8" width="4.6" height="4.6" fill="#000"/>
<rect x="60.2" y="1215.8" width="4.6" height="4.6" fill="#000"/>
<rect x="66.8" y="1215.8" width="4.6" height="4.6" fill="#000"/>
<rect x="97.7" y="1215.8" width="4.6" height="4.6" fill="#000"/>
<rect x="125.8" y="1215.8" width="4.6" height="4.6" fill="#000"/>
<rect x="159.8" y="1215.8" width="4.6" height="4.6" fill="#000"/>
<rect x="192.4" y="1215.8" width="4.6" height="4.6" fill="#000"/>
<rect x="194.64" y="1215.8" width="4.6" height="4.6" fill="#000"/>
<rect x="196.87" y="1215.8" width="4.6" height="4.6" fill="#000"/>
<rect x="199.11" y="1215.8" width="4.6" height="4.6" fill="#000"/>
<rect x="201.35" y="1215.8" width="4.6" height="4.6" fill="#000"/>
<rect x="203.58" y="1215.8" width="4.6" height="4.6" fill="#000"/>
<rect x="205.82" y="1215.8" width="4.6" height="4.6" fill="#000"/>
<rect x="208.05" y="1215.8" width="4.6" height="4.6" fill="#000"/>
<rect x="210.29" y="1215.8" width="4.6" height="4.6" fill="#000"/>
<rect x="212.53" y="1215.8" width="4.6" height="4.6" fill="#000"/>
<rect x="214.76" y="1215.8" width="4.6" height="4.6" fill="#000"/>
<rect x="217" y="1215.8" width="4.6" height="4.6" fill="#000"/>
<polyline points="36.8,1218.1 41,1218.1 41,1220.5 55,1220.5 55,1223.3 84.2,1223.3 84.2,1225.8 103.5,1225.8 103.5,1228.6 119.3,1228.6 119.3,1232.1 124.6,1232.1 124.6,1234.6 175.4,1234.6 175.4,1237.4 189.5,1237.4 189.5,1240.9 216.8,1240.9 216.8,1260.9 218,1260.9 218,1260.9" fill="none" stroke="#6a6a6a" stroke-width="1.0" />
<circle cx="39.3" cy="1218.1" r="2.3" fill="#000"/>
<circle cx="42.8" cy="1220.5" r="2.3" fill="#000"/>
<circle cx="50.9" cy="1220.5" r="2.3" fill="#000"/>
<circle cx="57.9" cy="1223.3" r="2.3" fill="#000"/>
<circle cx="60.4" cy="1223.3" r="2.3" fill="#000"/>
<circle cx="66.7" cy="1223.3" r="2.3" fill="#000"/>
<circle cx="108.8" cy="1228.6" r="2.3" fill="#000"/>
<circle cx="131.6" cy="1234.6" r="2.3" fill="#000"/>
<circle cx="142.1" cy="1234.6" r="2.3" fill="#000"/>
<circle cx="154.4" cy="1234.6" r="2.3" fill="#000"/>
<circle cx="167.7" cy="1234.6" r="2.3" fill="#000"/>
<circle cx="177.2" cy="1237.4" r="2.3" fill="#000"/>
<circle cx="184.2" cy="1237.4" r="2.3" fill="#000"/>
<circle cx="186" cy="1237.4" r="2.3" fill="#000"/>
<circle cx="191.2" cy="1240.9" r="2.3" fill="#000"/>
<circle cx="200" cy="1240.9" r="2.3" fill="#000"/>
<circle cx="202.26" cy="1240.9" r="2.3" fill="#000"/>
<circle cx="204.51" cy="1240.9" r="2.3" fill="#000"/>
<circle cx="206.77" cy="1240.9" r="2.3" fill="#000"/>
<circle cx="209.03" cy="1240.9" r="2.3" fill="#000"/>
<circle cx="211.29" cy="1240.9" r="2.3" fill="#000"/>
<circle cx="213.54" cy="1240.9" r="2.3" fill="#000"/>
<circle cx="215.8" cy="1240.9" r="2.3" fill="#000"/>
<circle cx="216.8" cy="1260.9" r="2.3" fill="#000"/>
<line x1="229.5" y1="1218.1" x2="229.5" y2="1263" stroke="#555" stroke-width="1.0" />
<line x1="226.7" y1="1218.1" x2="232.3" y2="1218.1" stroke="#555" stroke-width="1.0" />
<line x1="226.7" y1="1263" x2="232.3" y2="1263" stroke="#555" stroke-width="1.0" />
<text x="0" y="0" font-size="9.72" text-anchor="start" font-weight="normal" fill="#1c1c1c" transform="translate(234.4 1242.6) scale(0.92 1)"  stroke="#1c1c1c" stroke-width="0.3"><tspan font-style="italic">P</tspan> &lt; 0.01</text>
<line x1="46.3" y1="1343.3" x2="56.8" y2="1343.3" stroke="#6a6a6a" stroke-width="1.0" />
<circle cx="51.6" cy="1343.3" r="2.3" fill="#000"/>
<text x="0" y="0" font-size="9.5" text-anchor="start" font-weight="normal" fill="#1c1c1c" transform="translate(64.9 1346.72) scale(0.92 1)"  stroke="#1c1c1c" stroke-width="0.3">Mac-2bp ≥ 1500 ug/mL</text>
<line x1="46.3" y1="1359.1" x2="56.8" y2="1359.1" stroke="#6a6a6a" stroke-width="1.0" />
<rect x="49.3" y="1356.8" width="4.6" height="4.6" fill="#000"/>
<text x="0" y="0" font-size="9.5" text-anchor="start" font-weight="normal" fill="#1c1c1c" transform="translate(64.9 1362.52) scale(0.92 1)"  stroke="#1c1c1c" stroke-width="0.3">Mac-2bp &lt; 1500 ug/mL</text>
<line x1="391.3" y1="1202.3" x2="391.3" y2="1378.8" stroke="#262626" stroke-width="1.3" />
<line x1="387.3" y1="1378.2" x2="391.3" y2="1378.2" stroke="#262626" stroke-width="1.3" />
<text x="0" y="0" font-size="9.4" text-anchor="end" font-weight="normal" fill="#1c1c1c" transform="translate(385.1 1381.58) scale(0.92 1)"  stroke="#1c1c1c" stroke-width="0.3">0</text>
<line x1="387.3" y1="1298.15" x2="391.3" y2="1298.15" stroke="#262626" stroke-width="1.3" />
<text x="0" y="0" font-size="9.4" text-anchor="end" font-weight="normal" fill="#1c1c1c" transform="translate(385.1 1301.53) scale(0.92 1)"  stroke="#1c1c1c" stroke-width="0.3">50</text>
<line x1="387.3" y1="1218.1" x2="391.3" y2="1218.1" stroke="#262626" stroke-width="1.3" />
<text x="0" y="0" font-size="9.4" text-anchor="end" font-weight="normal" fill="#1c1c1c" transform="translate(385.1 1221.48) scale(0.92 1)"  stroke="#1c1c1c" stroke-width="0.3">100</text>
<line x1="390.7" y1="1378.2" x2="612.1" y2="1378.2" stroke="#262626" stroke-width="1.3" />
<line x1="391.3" y1="1378.2" x2="391.3" y2="1382.2" stroke="#262626" stroke-width="1.3" />
<text x="0" y="0" font-size="9.4" text-anchor="middle" font-weight="normal" fill="#1c1c1c" transform="translate(391.3 1393.08) scale(0.92 1)"  stroke="#1c1c1c" stroke-width="0.3">0</text>
<line x1="435.46" y1="1378.2" x2="435.46" y2="1382.2" stroke="#262626" stroke-width="1.3" />
<text x="0" y="0" font-size="9.4" text-anchor="middle" font-weight="normal" fill="#1c1c1c" transform="translate(435.46 1393.08) scale(0.92 1)"  stroke="#1c1c1c" stroke-width="0.3">500</text>
<line x1="479.62" y1="1378.2" x2="479.62" y2="1382.2" stroke="#262626" stroke-width="1.3" />
<text x="0" y="0" font-size="9.4" text-anchor="middle" font-weight="normal" fill="#1c1c1c" transform="translate(479.62 1393.08) scale(0.92 1)"  stroke="#1c1c1c" stroke-width="0.3">1000</text>
<line x1="523.78" y1="1378.2" x2="523.78" y2="1382.2" stroke="#262626" stroke-width="1.3" />
<text x="0" y="0" font-size="9.4" text-anchor="middle" font-weight="normal" fill="#1c1c1c" transform="translate(523.78 1393.08) scale(0.92 1)"  stroke="#1c1c1c" stroke-width="0.3">1500</text>
<line x1="567.94" y1="1378.2" x2="567.94" y2="1382.2" stroke="#262626" stroke-width="1.3" />
<text x="0" y="0" font-size="9.4" text-anchor="middle" font-weight="normal" fill="#1c1c1c" transform="translate(567.94 1393.08) scale(0.92 1)"  stroke="#1c1c1c" stroke-width="0.3">2000</text>
<line x1="612.1" y1="1378.2" x2="612.1" y2="1382.2" stroke="#262626" stroke-width="1.3" />
<text x="0" y="0" font-size="9.4" text-anchor="middle" font-weight="normal" fill="#1c1c1c" transform="translate(612.1 1393.08) scale(0.92 1)"  stroke="#1c1c1c" stroke-width="0.3">2500</text>
<text x="0" y="0" font-size="9.72" text-anchor="middle" font-weight="normal" fill="#1c1c1c" transform="translate(501.7 1406.7) scale(0.92 1)"  stroke="#1c1c1c" stroke-width="0.3">day</text>
<text x="0" y="0" font-size="9.4" text-anchor="middle" font-weight="normal" fill="#1c1c1c" transform="translate(365.88 1291) rotate(-90) scale(0.92 1)"  stroke="#1c1c1c" stroke-width="0.3">Probability of Survival</text>
<polyline points="391.3,1218.1 457.9,1218.1 457.9,1220.7 572,1220.7 572,1220.7" fill="none" stroke="#6a6a6a" stroke-width="1.0" />
<rect x="389.9" y="1215.8" width="4.6" height="4.6" fill="#000"/>
<rect x="392.15" y="1215.8" width="4.6" height="4.6" fill="#000"/>
<rect x="394.4" y="1215.8" width="4.6" height="4.6" fill="#000"/>
<rect x="414" y="1215.8" width="4.6" height="4.6" fill="#000"/>
<rect x="417.2" y="1215.8" width="4.6" height="4.6" fill="#000"/>
<rect x="420.4" y="1215.8" width="4.6" height="4.6" fill="#000"/>
<rect x="450.7" y="1215.8" width="4.6" height="4.6" fill="#000"/>
<rect x="479.7" y="1218.4" width="4.6" height="4.6" fill="#000"/>
<rect x="483.3" y="1218.4" width="4.6" height="4.6" fill="#000"/>
<rect x="493" y="1218.4" width="4.6" height="4.6" fill="#000"/>
<rect x="513.6" y="1218.4" width="4.6" height="4.6" fill="#000"/>
<rect x="519.2" y="1218.4" width="4.6" height="4.6" fill="#000"/>
<rect x="528.6" y="1218.4" width="4.6" height="4.6" fill="#000"/>
<rect x="536.1" y="1218.4" width="4.6" height="4.6" fill="#000"/>
<rect x="547.3" y="1218.4" width="4.6" height="4.6" fill="#000"/>
<rect x="549.54" y="1218.4" width="4.6" height="4.6" fill="#000"/>
<rect x="551.78" y="1218.4" width="4.6" height="4.6" fill="#000"/>
<rect x="554.02" y="1218.4" width="4.6" height="4.6" fill="#000"/>
<rect x="556.26" y="1218.4" width="4.6" height="4.6" fill="#000"/>
<rect x="558.5" y="1218.4" width="4.6" height="4.6" fill="#000"/>
<rect x="560.74" y="1218.4" width="4.6" height="4.6" fill="#000"/>
<rect x="562.98" y="1218.4" width="4.6" height="4.6" fill="#000"/>
<rect x="565.22" y="1218.4" width="4.6" height="4.6" fill="#000"/>
<rect x="567.46" y="1218.4" width="4.6" height="4.6" fill="#000"/>
<rect x="569.7" y="1218.4" width="4.6" height="4.6" fill="#000"/>
<polyline points="391.3,1218.1 394.3,1218.1 394.3,1222.9 407.4,1222.9 407.4,1227.4 439.2,1227.4 439.2,1233.8 471.7,1233.8 471.7,1238.7 478.5,1238.7 478.5,1245 529,1245 529,1250.6 542.1,1250.6 542.1,1256.6 570.2,1256.6 570.2,1287.3 571.5,1287.3 571.5,1287.3" fill="none" stroke="#6a6a6a" stroke-width="1.0" />
<circle cx="404.7" cy="1222.9" r="2.3" fill="#000"/>
<circle cx="411.9" cy="1227.6" r="2.3" fill="#000"/>
<circle cx="414.1" cy="1227.6" r="2.3" fill="#000"/>
<circle cx="462.4" cy="1233.8" r="2.3" fill="#000"/>
<circle cx="508.4" cy="1245" r="2.3" fill="#000"/>
<circle cx="540.2" cy="1250.6" r="2.3" fill="#000"/>
<circle cx="545.1" cy="1256.6" r="2.3" fill="#000"/>
<circle cx="560.8" cy="1256.6" r="2.3" fill="#000"/>
<circle cx="563.15" cy="1256.6" r="2.3" fill="#000"/>
<circle cx="565.5" cy="1256.6" r="2.3" fill="#000"/>
<circle cx="567.85" cy="1256.6" r="2.3" fill="#000"/>
<circle cx="570.2" cy="1256.6" r="2.3" fill="#000"/>
<circle cx="570.9" cy="1287.3" r="2.3" fill="#000"/>
<line x1="582.5" y1="1221.1" x2="582.5" y2="1288.4" stroke="#555" stroke-width="1.0" />
<line x1="579.7" y1="1221.1" x2="585.3" y2="1221.1" stroke="#555" stroke-width="1.0" />
<line x1="579.7" y1="1288.4" x2="585.3" y2="1288.4" stroke="#555" stroke-width="1.0" />
<text x="0" y="0" font-size="9.72" text-anchor="start" font-weight="normal" fill="#1c1c1c" transform="translate(587 1259.7) scale(0.92 1)"  stroke="#1c1c1c" stroke-width="0.3"><tspan font-style="italic">P</tspan> &lt; 0.0001</text>
<line x1="401.8" y1="1343.4" x2="412.3" y2="1343.4" stroke="#6a6a6a" stroke-width="1.0" />
<circle cx="407.1" cy="1343.4" r="2.3" fill="#000"/>
<text x="0" y="0" font-size="9.5" text-anchor="start" font-weight="normal" fill="#1c1c1c" transform="translate(420.4 1346.82) scale(0.92 1)"  stroke="#1c1c1c" stroke-width="0.3">ALBI ≥ -2.55</text>
<line x1="401.8" y1="1360.3" x2="412.3" y2="1360.3" stroke="#6a6a6a" stroke-width="1.0" />
<rect x="404.8" y="1358" width="4.6" height="4.6" fill="#000"/>
<text x="0" y="0" font-size="9.5" text-anchor="start" font-weight="normal" fill="#1c1c1c" transform="translate(420.4 1363.72) scale(0.92 1)"  stroke="#1c1c1c" stroke-width="0.3">ALBI &lt; -2.55</text>
<text x="0" y="0" font-size="34.06" font-weight="bold" fill="#000" stroke="#000" stroke-width="0.6" transform="translate(3.08 1472.1) scale(0.96 1)">D</text>
<line x1="37" y1="1484.9" x2="37" y2="1661.2" stroke="#262626" stroke-width="1.3" />
<line x1="33" y1="1660.6" x2="37" y2="1660.6" stroke="#262626" stroke-width="1.3" />
<text x="0" y="0" font-size="9.4" text-anchor="end" font-weight="normal" fill="#1c1c1c" transform="translate(30.8 1663.98) scale(0.92 1)"  stroke="#1c1c1c" stroke-width="0.3">0.5</text>
<line x1="33" y1="1625.46" x2="37" y2="1625.46" stroke="#262626" stroke-width="1.3" />
<text x="0" y="0" font-size="9.4" text-anchor="end" font-weight="normal" fill="#1c1c1c" transform="translate(30.8 1628.84) scale(0.92 1)"  stroke="#1c1c1c" stroke-width="0.3">0.6</text>
<line x1="33" y1="1590.32" x2="37" y2="1590.32" stroke="#262626" stroke-width="1.3" />
<text x="0" y="0" font-size="9.4" text-anchor="end" font-weight="normal" fill="#1c1c1c" transform="translate(30.8 1593.7) scale(0.92 1)"  stroke="#1c1c1c" stroke-width="0.3">0.7</text>
<line x1="33" y1="1555.18" x2="37" y2="1555.18" stroke="#262626" stroke-width="1.3" />
<text x="0" y="0" font-size="9.4" text-anchor="end" font-weight="normal" fill="#1c1c1c" transform="translate(30.8 1558.56) scale(0.92 1)"  stroke="#1c1c1c" stroke-width="0.3">0.8</text>
<line x1="33" y1="1520.04" x2="37" y2="1520.04" stroke="#262626" stroke-width="1.3" />
<text x="0" y="0" font-size="9.4" text-anchor="end" font-weight="normal" fill="#1c1c1c" transform="translate(30.8 1523.42) scale(0.92 1)"  stroke="#1c1c1c" stroke-width="0.3">0.9</text>
<line x1="33" y1="1484.9" x2="37" y2="1484.9" stroke="#262626" stroke-width="1.3" />
<text x="0" y="0" font-size="9.4" text-anchor="end" font-weight="normal" fill="#1c1c1c" transform="translate(30.8 1488.28) scale(0.92 1)"  stroke="#1c1c1c" stroke-width="0.3">1.0</text>
<line x1="36.4" y1="1660.6" x2="257.8" y2="1660.6" stroke="#262626" stroke-width="1.3" />
<line x1="37" y1="1660.6" x2="37" y2="1664.6" stroke="#262626" stroke-width="1.3" />
<text x="0" y="0" font-size="9.4" text-anchor="middle" font-weight="normal" fill="#1c1c1c" transform="translate(37 1674.98) scale(0.92 1)"  stroke="#1c1c1c" stroke-width="0.3">0</text>
<line x1="110.6" y1="1660.6" x2="110.6" y2="1664.6" stroke="#262626" stroke-width="1.3" />
<text x="0" y="0" font-size="9.4" text-anchor="middle" font-weight="normal" fill="#1c1c1c" transform="translate(110.6 1674.98) scale(0.92 1)"  stroke="#1c1c1c" stroke-width="0.3">2</text>
<line x1="184.2" y1="1660.6" x2="184.2" y2="1664.6" stroke="#262626" stroke-width="1.3" />
<text x="0" y="0" font-size="9.4" text-anchor="middle" font-weight="normal" fill="#1c1c1c" transform="translate(184.2 1674.98) scale(0.92 1)"  stroke="#1c1c1c" stroke-width="0.3">4</text>
<line x1="257.8" y1="1660.6" x2="257.8" y2="1664.6" stroke="#262626" stroke-width="1.3" />
<text x="0" y="0" font-size="9.4" text-anchor="middle" font-weight="normal" fill="#1c1c1c" transform="translate(257.8 1674.98) scale(0.92 1)"  stroke="#1c1c1c" stroke-width="0.3">6</text>
<text x="0" y="0" font-size="9.72" text-anchor="middle" font-weight="normal" fill="#1c1c1c" transform="translate(147.9 1688) scale(0.92 1)"  stroke="#1c1c1c" stroke-width="0.3">Time (years)</text>
<text x="0" y="0" font-size="9.5" text-anchor="middle" font-weight="normal" fill="#1c1c1c" transform="translate(11.82 1572.3) rotate(-90) scale(0.92 1)"  stroke="#1c1c1c" stroke-width="0.3">AUROC</text>
<polyline points="73.8,1521.5 110.6,1542.5 147.4,1553.3 184.2,1551.3 221,1538.2" fill="none" stroke="#000000" stroke-width="1.0" stroke-opacity="0.75"/>
<polyline points="73.8,1571.2 110.6,1570.4 147.4,1575.9 184.2,1573.9 221,1561.2" fill="none" stroke="#1f8f1f" stroke-width="1.0" stroke-opacity="0.75"/>
<polyline points="73.8,1496.4 110.6,1552.5 147.4,1605 184.2,1601.8 221,1586.3" fill="none" stroke="#1c1cf2" stroke-width="1.0" stroke-opacity="0.75"/>
<polyline points="73.8,1623.6 110.6,1601.8 147.4,1553.3 184.2,1553.3 221,1561.2" fill="none" stroke="#e41e1e" stroke-width="1.0" stroke-opacity="0.75"/>
<circle cx="73.8" cy="1521.5" r="3.3" fill="#000000"/>
<circle cx="110.6" cy="1542.5" r="3.3" fill="#000000"/>
<circle cx="147.4" cy="1553.3" r="3.3" fill="#000000"/>
<circle cx="184.2" cy="1551.3" r="3.3" fill="#000000"/>
<circle cx="221" cy="1538.2" r="3.3" fill="#000000"/>
<circle cx="73.8" cy="1571.2" r="3.3" fill="#1f8f1f"/>
<circle cx="110.6" cy="1570.4" r="3.3" fill="#1f8f1f"/>
<circle cx="147.4" cy="1575.9" r="3.3" fill="#1f8f1f"/>
<circle cx="184.2" cy="1573.9" r="3.3" fill="#1f8f1f"/>
<circle cx="221" cy="1561.2" r="3.3" fill="#1f8f1f"/>
<circle cx="73.8" cy="1496.4" r="3.3" fill="#1c1cf2"/>
<circle cx="110.6" cy="1552.5" r="3.3" fill="#1c1cf2"/>
<circle cx="147.4" cy="1605" r="3.3" fill="#1c1cf2"/>
<circle cx="184.2" cy="1601.8" r="3.3" fill="#1c1cf2"/>
<circle cx="221" cy="1586.3" r="3.3" fill="#1c1cf2"/>
<circle cx="73.8" cy="1623.6" r="3.3" fill="#e41e1e"/>
<circle cx="110.6" cy="1601.8" r="3.3" fill="#e41e1e"/>
<circle cx="147.4" cy="1553.3" r="3.3" fill="#e41e1e"/>
<circle cx="184.2" cy="1553.3" r="3.3" fill="#e41e1e"/>
<circle cx="221" cy="1561.2" r="3.3" fill="#e41e1e"/>
<line x1="265.6" y1="1538.2" x2="276.3" y2="1538.2" stroke="#e41e1e" stroke-width="1.0" />
<circle cx="271.2" cy="1538.2" r="3.3" fill="#e41e1e"/>
<text x="0" y="0" font-size="9.83" text-anchor="start" font-weight="normal" fill="#1c1c1c" transform="translate(284.3 1541.74) scale(0.92 1)"  stroke="#1c1c1c" stroke-width="0.3"><tspan font-style="italic">E.CPS</tspan></text>
<line x1="265.6" y1="1554.5" x2="276.3" y2="1554.5" stroke="#1c1cf2" stroke-width="1.0" />
<circle cx="271.2" cy="1554.5" r="3.3" fill="#1c1cf2"/>
<text x="0" y="0" font-size="9.83" text-anchor="start" font-weight="normal" fill="#1c1c1c" transform="translate(284.3 1558.04) scale(0.92 1)"  stroke="#1c1c1c" stroke-width="0.3">LBP</text>
<line x1="265.6" y1="1570.4" x2="276.3" y2="1570.4" stroke="#000000" stroke-width="1.0" />
<circle cx="271.2" cy="1570.4" r="3.3" fill="#000000"/>
<text x="0" y="0" font-size="9.83" text-anchor="start" font-weight="normal" fill="#1c1c1c" transform="translate(284.3 1573.94) scale(0.92 1)"  stroke="#1c1c1c" stroke-width="0.3">ALBI score</text>
<line x1="265.6" y1="1586.3" x2="276.3" y2="1586.3" stroke="#1f8f1f" stroke-width="1.0" />
<circle cx="271.2" cy="1586.3" r="3.3" fill="#1f8f1f"/>
<text x="0" y="0" font-size="9.83" text-anchor="start" font-weight="normal" fill="#1c1c1c" transform="translate(284.3 1589.84) scale(0.92 1)"  stroke="#1c1c1c" stroke-width="0.3">Mac-2bp</text>
</svg>
</body></html>
